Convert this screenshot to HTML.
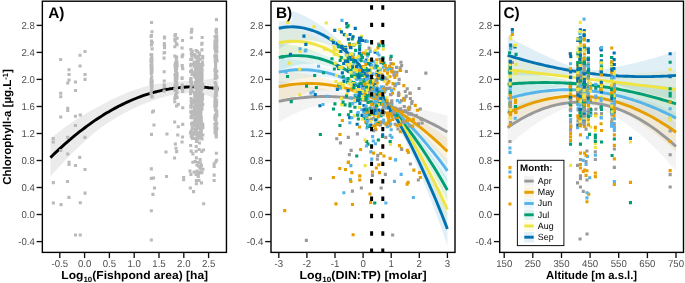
<!DOCTYPE html>
<html><head><meta charset="utf-8"><title>Figure</title>
<style>html,body{margin:0;padding:0;background:#fff}svg{display:block;will-change:transform}text{font-family:"Liberation Sans",sans-serif;text-rendering:geometricPrecision}.tl{font-size:10px;fill:#4d4d4d}.tk{stroke:#111;stroke-width:1.35}.at{font-size:11.5px;font-weight:bold;fill:#000}.sb{font-size:7.6px}.pl{font-size:15.4px;font-weight:bold;fill:#000}.lt{font-size:9.4px;font-weight:bold;fill:#000}.ll{font-size:9.0px;fill:#000}</style></head><body>
<svg width="685" height="283" viewBox="0 0 685 283">
<rect width="685" height="283" fill="#fff"/>
<defs>
<clipPath id="cA"><rect x="42.35" y="1.2" width="184.1" height="251.2"/></clipPath>
<clipPath id="cB"><rect x="271.0" y="1.2" width="184" height="251.2"/></clipPath>
<clipPath id="cC"><rect x="499.7" y="1.2" width="183.8" height="251.2"/></clipPath>
</defs>
<g clip-path="url(#cA)">
<polygon points="50.4,138.7 52.8,136.6 55.2,134.7 57.7,132.8 60.1,130.9 62.6,129 65,127.2 67.4,125.5 69.9,123.8 72.3,122.1 74.7,120.5 77.2,118.9 79.6,117.3 82.1,115.8 84.5,114.4 86.9,112.9 89.4,111.5 91.8,110.2 94.2,108.9 96.7,107.6 99.1,106.4 101.6,105.1 104,103.7 106.4,102.4 108.9,101.1 111.3,99.8 113.7,98.6 116.2,97.4 118.6,96.3 121,95.2 123.5,94.2 125.9,93.2 128.4,92.2 130.8,91.3 133.2,90.4 135.7,89.5 138.1,88.7 140.5,88 143,87.3 145.4,86.6 147.9,85.9 150.3,85.3 152.7,84.8 155.2,84.3 157.6,83.8 160,83.4 162.5,83 164.9,82.7 167.3,82.4 169.8,82.1 172.2,81.9 174.7,81.8 177.1,81.6 179.5,81.5 182,81.3 184.4,81.1 186.8,81 189.3,81 191.7,80.9 194.2,80.9 196.6,80.7 199,80.5 201.5,80.4 203.9,80.1 206.3,79.6 208.8,79.2 211.2,78.8 213.6,78.1 216.1,77.4 218.5,76.8 218.5,101.1 216.1,99.8 213.6,98.4 211.2,97.1 208.8,96.1 206.3,95.2 203.9,94.3 201.5,93.7 199,93.4 196.6,93.1 194.2,92.9 191.7,92.8 189.3,92.9 186.8,93 184.4,93.2 182,93.4 179.5,93.6 177.1,94 174.7,94.5 172.2,95 169.8,95.5 167.3,96.1 164.9,96.8 162.5,97.4 160,98.1 157.6,98.9 155.2,99.7 152.7,100.5 150.3,101.4 147.9,102.3 145.4,103.2 143,104.2 140.5,105.2 138.1,106.3 135.7,107.4 133.2,108.6 130.8,109.7 128.4,111 125.9,112.2 123.5,113.5 121,114.9 118.6,116.3 116.2,117.7 113.7,119.2 111.3,120.7 108.9,122.3 106.4,123.9 104,125.5 101.6,127.2 99.1,129 96.7,131 94.2,133 91.8,135.1 89.4,137.2 86.9,139.3 84.5,141.5 82.1,143.8 79.6,146.1 77.2,148.4 74.7,150.7 72.3,153.1 69.9,155.6 67.4,158.1 65,160.6 62.6,163.2 60.1,165.8 57.7,168.4 55.2,171.1 52.8,173.8 50.4,176.5" fill="#ebebeb"/>
<polyline points="50.4,157.6 52.8,155.2 55.2,152.9 57.7,150.6 60.1,148.3 62.6,146.1 65,143.9 67.4,141.8 69.9,139.7 72.3,137.6 74.7,135.6 77.2,133.6 79.6,131.7 82.1,129.8 84.5,128 86.9,126.1 89.4,124.4 91.8,122.6 94.2,120.9 96.7,119.3 99.1,117.7 101.6,116.1 104,114.6 106.4,113.1 108.9,111.7 111.3,110.3 113.7,108.9 116.2,107.6 118.6,106.3 121,105.1 123.5,103.9 125.9,102.7 128.4,101.6 130.8,100.5 133.2,99.5 135.7,98.5 138.1,97.5 140.5,96.6 143,95.7 145.4,94.9 147.9,94.1 150.3,93.4 152.7,92.7 155.2,92 157.6,91.4 160,90.8 162.5,90.2 164.9,89.7 167.3,89.3 169.8,88.8 172.2,88.5 174.7,88.1 177.1,87.8 179.5,87.6 182,87.3 184.4,87.2 186.8,87 189.3,86.9 191.7,86.9 194.2,86.9 196.6,86.9 199,87 201.5,87.1 203.9,87.2 206.3,87.4 208.8,87.7 211.2,87.9 213.6,88.2 216.1,88.6 218.5,89" fill="none" stroke="#000" stroke-width="2.9" stroke-linejoin="round"/>
<path d="M83.5 49.9h3.1v3.1h-3.1zM78.5 53.7h3.1v3.1h-3.1zM59.1 57.9h3.1v3.1h-3.1zM78.5 64.4h3.1v3.1h-3.1zM67.5 68.2h3.1v3.1h-3.1zM67.5 72.9h3.1v3.1h-3.1zM83.5 72.9h3.1v3.1h-3.1zM83.5 77.8h3.1v3.1h-3.1zM67.5 78.5h3.1v3.1h-3.1zM73.9 80.5h3.1v3.1h-3.1zM66.2 81.4h3.1v3.1h-3.1zM73.9 89h3.1v3.1h-3.1zM59.2 91.7h3.1v3.1h-3.1zM59.2 95.2h3.1v3.1h-3.1zM66.2 106.7h3.1v3.1h-3.1zM66.2 108.8h3.1v3.1h-3.1zM59.2 115.5h3.1v3.1h-3.1zM73.9 114.7h3.1v3.1h-3.1zM78.7 113.4h3.1v3.1h-3.1zM73.9 124h3.1v3.1h-3.1zM51.7 137h3.1v3.1h-3.1zM51.7 140.5h3.1v3.1h-3.1zM66.2 135.8h3.1v3.1h-3.1zM83.4 135.8h3.1v3.1h-3.1zM59.2 149h3.1v3.1h-3.1zM66.2 152.5h3.1v3.1h-3.1zM78.2 155.8h3.1v3.1h-3.1zM67.5 160.8h3.1v3.1h-3.1zM67.5 162.9h3.1v3.1h-3.1zM73.9 164h3.1v3.1h-3.1zM83.4 168h3.1v3.1h-3.1zM51.8 181.1h3.1v3.1h-3.1zM65.9 180h3.1v3.1h-3.1zM83.5 191.6h3.1v3.1h-3.1zM67.4 195.8h3.1v3.1h-3.1zM51.8 201.4h3.1v3.1h-3.1zM59.5 203.1h3.1v3.1h-3.1zM78.7 201.2h3.1v3.1h-3.1zM74 233.4h3.1v3.1h-3.1zM78.7 233.4h3.1v3.1h-3.1zM149.8 167.3h3.1v3.1h-3.1zM149.8 176.8h3.1v3.1h-3.1zM152 176.4h3.1v3.1h-3.1zM152.9 186.4h3.1v3.1h-3.1zM151.4 192.8h3.1v3.1h-3.1zM149.8 209.2h3.1v3.1h-3.1zM149.8 238.4h3.1v3.1h-3.1zM165 174.9h3.1v3.1h-3.1zM182.1 175.9h3.1v3.1h-3.1zM182.1 178.1h3.1v3.1h-3.1zM188.4 169.4h3.1v3.1h-3.1zM189.4 172.8h3.1v3.1h-3.1zM192.6 170.4h3.1v3.1h-3.1zM194.8 179h3.1v3.1h-3.1zM194.8 182.2h3.1v3.1h-3.1zM197.4 179h3.1v3.1h-3.1zM199.9 181.3h3.1v3.1h-3.1zM188.8 186.4h3.1v3.1h-3.1zM192 190.1h3.1v3.1h-3.1zM202.1 202.2h3.1v3.1h-3.1zM212.6 162.2h3.1v3.1h-3.1zM212.6 164.8h3.1v3.1h-3.1zM212.6 173.6h3.1v3.1h-3.1zM212.6 179h3.1v3.1h-3.1zM151 110.5h3.1v3.1h-3.1zM151.9 109.5h3.1v3.1h-3.1zM152.4 123.5h3.1v3.1h-3.1zM149.9 132.8h3.1v3.1h-3.1zM165.4 132.4h3.1v3.1h-3.1zM164.4 150.4h3.1v3.1h-3.1zM149.5 35h3.1v3.1h-3.1zM149.9 33.9h3.1v3.1h-3.1zM150.4 30.2h3.1v3.1h-3.1zM150 20.9h3.1v3.1h-3.1zM149.7 68.9h3.1v3.1h-3.1zM150.3 86.9h3.1v3.1h-3.1zM149.9 43.3h3.1v3.1h-3.1zM149.8 93.1h3.1v3.1h-3.1zM149.6 66.1h3.1v3.1h-3.1zM150.7 40.9h3.1v3.1h-3.1zM150.2 95.5h3.1v3.1h-3.1zM149.7 71.8h3.1v3.1h-3.1zM150.6 47.3h3.1v3.1h-3.1zM150.1 83.7h3.1v3.1h-3.1zM150.3 67h3.1v3.1h-3.1zM149.6 68.4h3.1v3.1h-3.1zM149.9 67.6h3.1v3.1h-3.1zM149.9 88.9h3.1v3.1h-3.1zM150.4 58h3.1v3.1h-3.1zM150.2 55.7h3.1v3.1h-3.1zM150 60.3h3.1v3.1h-3.1zM150.3 61.3h3.1v3.1h-3.1zM150 81.9h3.1v3.1h-3.1zM149.9 92.9h3.1v3.1h-3.1zM149.6 83.2h3.1v3.1h-3.1zM149.9 64.6h3.1v3.1h-3.1zM150.2 70.3h3.1v3.1h-3.1zM149.9 39.5h3.1v3.1h-3.1zM149.5 81.3h3.1v3.1h-3.1zM150.1 80.5h3.1v3.1h-3.1zM150.7 79.7h3.1v3.1h-3.1zM149.4 57.7h3.1v3.1h-3.1zM150.2 53.3h3.1v3.1h-3.1zM150.7 95.2h3.1v3.1h-3.1zM150.5 67.3h3.1v3.1h-3.1zM150.5 47.2h3.1v3.1h-3.1zM149.8 66.8h3.1v3.1h-3.1zM150.4 68.1h3.1v3.1h-3.1zM149.5 59.7h3.1v3.1h-3.1zM149.8 57.2h3.1v3.1h-3.1zM149.6 63.9h3.1v3.1h-3.1zM150 85.2h3.1v3.1h-3.1zM150.5 70.3h3.1v3.1h-3.1zM150 85.4h3.1v3.1h-3.1zM150.6 79.3h3.1v3.1h-3.1zM150.5 94.9h3.1v3.1h-3.1zM149.4 91.1h3.1v3.1h-3.1zM149.7 67.5h3.1v3.1h-3.1zM150.5 81.8h3.1v3.1h-3.1zM149.6 78.3h3.1v3.1h-3.1zM149.4 60.5h3.1v3.1h-3.1zM150.5 64.7h3.1v3.1h-3.1zM150.2 82.4h3.1v3.1h-3.1zM150.5 84.3h3.1v3.1h-3.1zM149.4 64.2h3.1v3.1h-3.1zM150 42.7h3.1v3.1h-3.1zM150.1 75.3h3.1v3.1h-3.1zM150.5 95h3.1v3.1h-3.1zM149.5 53h3.1v3.1h-3.1zM162.8 41.9h3.1v3.1h-3.1zM162.6 70.2h3.1v3.1h-3.1zM162.6 83.5h3.1v3.1h-3.1zM163 35.6h3.1v3.1h-3.1zM162.8 84.5h3.1v3.1h-3.1zM163 51h3.1v3.1h-3.1zM162.6 89.6h3.1v3.1h-3.1zM163 46.1h3.1v3.1h-3.1zM162.7 79.5h3.1v3.1h-3.1zM163 44.2h3.1v3.1h-3.1zM162.8 85.2h3.1v3.1h-3.1zM162.8 44h3.1v3.1h-3.1zM162.5 51.5h3.1v3.1h-3.1zM162.9 36.3h3.1v3.1h-3.1zM162.5 56.6h3.1v3.1h-3.1zM173.4 33.9h3.1v3.1h-3.1zM173.3 45.2h3.1v3.1h-3.1zM174.9 42.3h3.1v3.1h-3.1zM173.6 39.4h3.1v3.1h-3.1zM174.7 57.7h3.1v3.1h-3.1zM175.6 36.7h3.1v3.1h-3.1zM173.3 54.4h3.1v3.1h-3.1zM175.5 43.2h3.1v3.1h-3.1zM175.1 55.4h3.1v3.1h-3.1zM174.7 55.6h3.1v3.1h-3.1zM173.3 37.6h3.1v3.1h-3.1zM173.9 33.1h3.1v3.1h-3.1zM175.4 60.6h3.1v3.1h-3.1zM174.9 62.2h3.1v3.1h-3.1zM174.1 75.3h3.1v3.1h-3.1zM173.7 79.2h3.1v3.1h-3.1zM174.5 71.5h3.1v3.1h-3.1zM175 65.5h3.1v3.1h-3.1zM173.7 72.9h3.1v3.1h-3.1zM174.2 67.3h3.1v3.1h-3.1zM175.5 90.9h3.1v3.1h-3.1zM173.5 73.5h3.1v3.1h-3.1zM173.8 76.6h3.1v3.1h-3.1zM173.9 78.5h3.1v3.1h-3.1zM175.5 74h3.1v3.1h-3.1zM174.8 82.1h3.1v3.1h-3.1zM175.1 61.8h3.1v3.1h-3.1zM175 95.4h3.1v3.1h-3.1zM174.7 70.4h3.1v3.1h-3.1zM174.9 86.5h3.1v3.1h-3.1zM174.8 65h3.1v3.1h-3.1zM175.6 95.8h3.1v3.1h-3.1zM174.3 82h3.1v3.1h-3.1zM173.3 97h3.1v3.1h-3.1zM175.2 83.6h3.1v3.1h-3.1zM175.1 66.6h3.1v3.1h-3.1zM174 68.8h3.1v3.1h-3.1zM174.7 62.9h3.1v3.1h-3.1zM175.4 77h3.1v3.1h-3.1zM174.3 63.4h3.1v3.1h-3.1zM174.9 90.5h3.1v3.1h-3.1zM174.8 68.6h3.1v3.1h-3.1zM175.1 65h3.1v3.1h-3.1zM175.2 81.5h3.1v3.1h-3.1zM173.9 79h3.1v3.1h-3.1zM174.8 69.3h3.1v3.1h-3.1zM175.3 75.5h3.1v3.1h-3.1zM175.4 91.2h3.1v3.1h-3.1zM173.5 84h3.1v3.1h-3.1zM174 88.1h3.1v3.1h-3.1zM174.6 76.8h3.1v3.1h-3.1zM175.4 61.6h3.1v3.1h-3.1zM174.6 71.9h3.1v3.1h-3.1zM173.3 88.1h3.1v3.1h-3.1zM174.6 93.4h3.1v3.1h-3.1zM174.7 72.3h3.1v3.1h-3.1zM175.6 63.8h3.1v3.1h-3.1zM173.4 87.3h3.1v3.1h-3.1zM174.1 73.2h3.1v3.1h-3.1zM175.4 71.9h3.1v3.1h-3.1zM175.4 83.9h3.1v3.1h-3.1zM174 61.7h3.1v3.1h-3.1zM173.8 96.2h3.1v3.1h-3.1zM174.2 65.5h3.1v3.1h-3.1zM174 93.6h3.1v3.1h-3.1zM173.6 89h3.1v3.1h-3.1zM173.6 96h3.1v3.1h-3.1zM174.5 61.1h3.1v3.1h-3.1zM175.5 73.1h3.1v3.1h-3.1zM175 79.4h3.1v3.1h-3.1zM173.5 63.5h3.1v3.1h-3.1zM173.6 65.6h3.1v3.1h-3.1zM173.2 100.2h3.1v3.1h-3.1zM176.7 102.8h3.1v3.1h-3.1zM175 104.4h3.1v3.1h-3.1zM173.8 142.5h3.1v3.1h-3.1zM176.7 125.2h3.1v3.1h-3.1zM173 156.4h3.1v3.1h-3.1zM173.1 120.4h3.1v3.1h-3.1zM175.1 150.1h3.1v3.1h-3.1zM176.2 133.4h3.1v3.1h-3.1zM174.5 146.7h3.1v3.1h-3.1zM181.1 90h3.1v3.1h-3.1zM181 38.9h3.1v3.1h-3.1zM180.7 64.5h3.1v3.1h-3.1zM180.9 87.4h3.1v3.1h-3.1zM180.6 76.3h3.1v3.1h-3.1zM180.7 83.6h3.1v3.1h-3.1zM180.6 63.9h3.1v3.1h-3.1zM180.5 46.4h3.1v3.1h-3.1zM181.2 53.3h3.1v3.1h-3.1zM181.2 67.1h3.1v3.1h-3.1zM180.5 84.8h3.1v3.1h-3.1zM180.5 87h3.1v3.1h-3.1zM180.5 76.9h3.1v3.1h-3.1zM180.6 55.1h3.1v3.1h-3.1zM181.2 122.8h3.1v3.1h-3.1zM181 135.5h3.1v3.1h-3.1zM180.5 140.4h3.1v3.1h-3.1zM181.2 106.2h3.1v3.1h-3.1zM189.8 30.6h3.1v3.1h-3.1zM190.2 27.8h3.1v3.1h-3.1zM189.8 36.2h3.1v3.1h-3.1zM190.2 28.6h3.1v3.1h-3.1zM190.3 49.5h3.1v3.1h-3.1zM190.3 53.9h3.1v3.1h-3.1zM189.1 57.9h3.1v3.1h-3.1zM190.3 57.3h3.1v3.1h-3.1zM190.6 49.8h3.1v3.1h-3.1zM189.3 48h3.1v3.1h-3.1zM189.8 52.2h3.1v3.1h-3.1zM189.6 97h3.1v3.1h-3.1zM189.4 62.8h3.1v3.1h-3.1zM189.8 83.1h3.1v3.1h-3.1zM189.7 132.1h3.1v3.1h-3.1zM189.2 110.3h3.1v3.1h-3.1zM190.1 83.5h3.1v3.1h-3.1zM189.8 135.2h3.1v3.1h-3.1zM189.5 115.9h3.1v3.1h-3.1zM190.5 89.5h3.1v3.1h-3.1zM190.8 109.4h3.1v3.1h-3.1zM189.9 116.1h3.1v3.1h-3.1zM189.7 115.9h3.1v3.1h-3.1zM189.4 132h3.1v3.1h-3.1zM189.9 80.6h3.1v3.1h-3.1zM189.7 129.6h3.1v3.1h-3.1zM190.5 98.8h3.1v3.1h-3.1zM189.6 90.7h3.1v3.1h-3.1zM190.8 70.9h3.1v3.1h-3.1zM190.6 126.8h3.1v3.1h-3.1zM189.3 88.7h3.1v3.1h-3.1zM190 122.6h3.1v3.1h-3.1zM190.8 136.8h3.1v3.1h-3.1zM189.4 76.9h3.1v3.1h-3.1zM189.8 104.3h3.1v3.1h-3.1zM190.2 70.5h3.1v3.1h-3.1zM190.1 131.6h3.1v3.1h-3.1zM190.7 133.2h3.1v3.1h-3.1zM190.7 134.5h3.1v3.1h-3.1zM188.9 131.2h3.1v3.1h-3.1zM189.4 86.5h3.1v3.1h-3.1zM189.8 134.1h3.1v3.1h-3.1zM190.1 88.9h3.1v3.1h-3.1zM189.6 130.3h3.1v3.1h-3.1zM190.5 72.8h3.1v3.1h-3.1zM189.3 90.3h3.1v3.1h-3.1zM189.3 104.7h3.1v3.1h-3.1zM189.3 105.6h3.1v3.1h-3.1zM190.7 126.1h3.1v3.1h-3.1zM189 78h3.1v3.1h-3.1zM189.7 110.9h3.1v3.1h-3.1zM189.6 81.3h3.1v3.1h-3.1zM189.5 77.8h3.1v3.1h-3.1zM190.6 114.7h3.1v3.1h-3.1zM189.7 115h3.1v3.1h-3.1zM189.9 101.9h3.1v3.1h-3.1zM189.6 99.1h3.1v3.1h-3.1zM190.8 121.3h3.1v3.1h-3.1zM190.5 71.8h3.1v3.1h-3.1zM189.9 90h3.1v3.1h-3.1zM189 92.1h3.1v3.1h-3.1zM189 80h3.1v3.1h-3.1zM190.4 113.9h3.1v3.1h-3.1zM190.2 68.4h3.1v3.1h-3.1zM189.2 64.1h3.1v3.1h-3.1zM189 70h3.1v3.1h-3.1zM191.3 160.7h3.1v3.1h-3.1zM189.1 144h3.1v3.1h-3.1zM191.3 152.3h3.1v3.1h-3.1zM189.6 149.6h3.1v3.1h-3.1zM200.2 42.6h3.1v3.1h-3.1zM200.5 41.7h3.1v3.1h-3.1zM200.6 36h3.1v3.1h-3.1zM200.4 48.3h3.1v3.1h-3.1zM193.8 55.4h3.1v3.1h-3.1zM198.1 53.2h3.1v3.1h-3.1zM201.1 55.2h3.1v3.1h-3.1zM196.8 61.1h3.1v3.1h-3.1zM192.6 60.6h3.1v3.1h-3.1zM193.6 53.8h3.1v3.1h-3.1zM196.8 55.1h3.1v3.1h-3.1zM192.8 52.9h3.1v3.1h-3.1zM195.7 61.8h3.1v3.1h-3.1zM200.7 56.6h3.1v3.1h-3.1zM200.9 60.5h3.1v3.1h-3.1zM195.8 50.1h3.1v3.1h-3.1zM197.9 53h3.1v3.1h-3.1zM192.5 62.2h3.1v3.1h-3.1zM201.2 56h3.1v3.1h-3.1zM198 57.8h3.1v3.1h-3.1zM200.8 55h3.1v3.1h-3.1zM197.7 51.6h3.1v3.1h-3.1zM194.6 55.8h3.1v3.1h-3.1zM194.5 48.9h3.1v3.1h-3.1zM195.8 58.9h3.1v3.1h-3.1zM194.9 60.5h3.1v3.1h-3.1zM198.8 111.4h3.1v3.1h-3.1zM200.5 68h3.1v3.1h-3.1zM194.2 130.6h3.1v3.1h-3.1zM200.6 68.3h3.1v3.1h-3.1zM199.5 63.6h3.1v3.1h-3.1zM193.8 70.7h3.1v3.1h-3.1zM195.2 91.6h3.1v3.1h-3.1zM200.7 95.2h3.1v3.1h-3.1zM193.7 82.9h3.1v3.1h-3.1zM192.7 64.6h3.1v3.1h-3.1zM196.4 100.9h3.1v3.1h-3.1zM194.8 90.9h3.1v3.1h-3.1zM193.6 111.9h3.1v3.1h-3.1zM196.1 74.6h3.1v3.1h-3.1zM197 78.1h3.1v3.1h-3.1zM195.2 71.8h3.1v3.1h-3.1zM199.5 83.4h3.1v3.1h-3.1zM201.1 92.9h3.1v3.1h-3.1zM194 115.3h3.1v3.1h-3.1zM199.1 128.5h3.1v3.1h-3.1zM193.8 121.7h3.1v3.1h-3.1zM200.2 85.3h3.1v3.1h-3.1zM196.6 108.9h3.1v3.1h-3.1zM194.8 127.8h3.1v3.1h-3.1zM198.8 126.7h3.1v3.1h-3.1zM196.6 101.4h3.1v3.1h-3.1zM194.4 86h3.1v3.1h-3.1zM199.1 134.4h3.1v3.1h-3.1zM194 66.2h3.1v3.1h-3.1zM193.2 95.1h3.1v3.1h-3.1zM199.6 79.3h3.1v3.1h-3.1zM196.8 101.1h3.1v3.1h-3.1zM200 74.8h3.1v3.1h-3.1zM192.8 100.4h3.1v3.1h-3.1zM195.8 84.4h3.1v3.1h-3.1zM199.4 113.7h3.1v3.1h-3.1zM193.4 103.6h3.1v3.1h-3.1zM199.7 130.7h3.1v3.1h-3.1zM192.7 123h3.1v3.1h-3.1zM193 113.6h3.1v3.1h-3.1zM197.9 133.9h3.1v3.1h-3.1zM198.2 67.7h3.1v3.1h-3.1zM198.5 81.6h3.1v3.1h-3.1zM200 64.8h3.1v3.1h-3.1zM195.5 113.2h3.1v3.1h-3.1zM194 110.9h3.1v3.1h-3.1zM198.8 117.5h3.1v3.1h-3.1zM200.4 93.4h3.1v3.1h-3.1zM193.9 82h3.1v3.1h-3.1zM196.1 66.5h3.1v3.1h-3.1zM198.9 67.2h3.1v3.1h-3.1zM193.2 132.4h3.1v3.1h-3.1zM199.7 81.5h3.1v3.1h-3.1zM195.7 124.4h3.1v3.1h-3.1zM198.1 82.3h3.1v3.1h-3.1zM196.6 126.6h3.1v3.1h-3.1zM192.7 136.9h3.1v3.1h-3.1zM197.6 76.1h3.1v3.1h-3.1zM199.7 68.2h3.1v3.1h-3.1zM196.3 105.4h3.1v3.1h-3.1zM194.8 128.8h3.1v3.1h-3.1zM198.8 74.6h3.1v3.1h-3.1zM194 67.1h3.1v3.1h-3.1zM197.7 76.5h3.1v3.1h-3.1zM197.4 123.9h3.1v3.1h-3.1zM200.4 71.2h3.1v3.1h-3.1zM195.6 93.8h3.1v3.1h-3.1zM196 93.9h3.1v3.1h-3.1zM196.7 119.2h3.1v3.1h-3.1zM195.3 88.2h3.1v3.1h-3.1zM196.1 73.8h3.1v3.1h-3.1zM198.2 92.5h3.1v3.1h-3.1zM200.7 124.1h3.1v3.1h-3.1zM194.7 80.6h3.1v3.1h-3.1zM199.5 104.4h3.1v3.1h-3.1zM192.7 109.7h3.1v3.1h-3.1zM196.1 121.3h3.1v3.1h-3.1zM199.2 131.6h3.1v3.1h-3.1zM198.8 130.9h3.1v3.1h-3.1zM195.2 87.9h3.1v3.1h-3.1zM193.2 127.5h3.1v3.1h-3.1zM194 103.8h3.1v3.1h-3.1zM197.1 123.5h3.1v3.1h-3.1zM196.1 73.1h3.1v3.1h-3.1zM196 66.1h3.1v3.1h-3.1zM195.3 109.7h3.1v3.1h-3.1zM193.2 136.7h3.1v3.1h-3.1zM197.4 85h3.1v3.1h-3.1zM200 72.8h3.1v3.1h-3.1zM195.5 132.7h3.1v3.1h-3.1zM194.8 117.4h3.1v3.1h-3.1zM193.4 102.4h3.1v3.1h-3.1zM198.4 78.2h3.1v3.1h-3.1zM195.5 103.7h3.1v3.1h-3.1zM197.8 74h3.1v3.1h-3.1zM196.3 137.4h3.1v3.1h-3.1zM195.5 121.4h3.1v3.1h-3.1zM194.4 97h3.1v3.1h-3.1zM197.2 107.2h3.1v3.1h-3.1zM199 122.1h3.1v3.1h-3.1zM198.8 123h3.1v3.1h-3.1zM200.4 86.9h3.1v3.1h-3.1zM199.9 101.4h3.1v3.1h-3.1zM194.9 75.4h3.1v3.1h-3.1zM199.4 110.2h3.1v3.1h-3.1zM193.3 106.5h3.1v3.1h-3.1zM193 91.8h3.1v3.1h-3.1zM197.7 111.2h3.1v3.1h-3.1zM194 65.8h3.1v3.1h-3.1zM197.7 123.9h3.1v3.1h-3.1zM199.7 89.4h3.1v3.1h-3.1zM197.7 116.4h3.1v3.1h-3.1zM200.3 99.3h3.1v3.1h-3.1zM200.4 86.3h3.1v3.1h-3.1zM194.6 84.5h3.1v3.1h-3.1zM199.1 128.8h3.1v3.1h-3.1zM196.8 114.6h3.1v3.1h-3.1zM193.9 100.5h3.1v3.1h-3.1zM196.5 94.8h3.1v3.1h-3.1zM194.3 109.2h3.1v3.1h-3.1zM198.6 110.2h3.1v3.1h-3.1zM199.2 96.8h3.1v3.1h-3.1zM200.2 105.3h3.1v3.1h-3.1zM200.4 93.2h3.1v3.1h-3.1zM198.8 77.2h3.1v3.1h-3.1zM193.4 132.3h3.1v3.1h-3.1zM195.9 65.9h3.1v3.1h-3.1zM198.1 132.4h3.1v3.1h-3.1zM199.4 136.5h3.1v3.1h-3.1zM200.9 96.6h3.1v3.1h-3.1zM194.7 67.3h3.1v3.1h-3.1zM195 109.9h3.1v3.1h-3.1zM200.7 62.6h3.1v3.1h-3.1zM199.8 119.8h3.1v3.1h-3.1zM198.7 72h3.1v3.1h-3.1zM193.1 117.7h3.1v3.1h-3.1zM198.3 90.2h3.1v3.1h-3.1zM195.7 64.9h3.1v3.1h-3.1zM201.4 125.2h3.1v3.1h-3.1zM201.2 123.8h3.1v3.1h-3.1zM196.7 125.8h3.1v3.1h-3.1zM194.4 112.9h3.1v3.1h-3.1zM194.7 91.9h3.1v3.1h-3.1zM200.3 94.3h3.1v3.1h-3.1zM200.5 107.4h3.1v3.1h-3.1zM195.2 82h3.1v3.1h-3.1zM192.7 105.4h3.1v3.1h-3.1zM200 79.3h3.1v3.1h-3.1zM196.9 136.2h3.1v3.1h-3.1zM196.1 132.8h3.1v3.1h-3.1zM199.9 99.5h3.1v3.1h-3.1zM198.2 67.4h3.1v3.1h-3.1zM197.2 119.4h3.1v3.1h-3.1zM194.7 66.3h3.1v3.1h-3.1zM192.9 74.5h3.1v3.1h-3.1zM194.7 122.9h3.1v3.1h-3.1zM196.7 102.6h3.1v3.1h-3.1zM195.4 84.9h3.1v3.1h-3.1zM197.5 118.4h3.1v3.1h-3.1zM194.2 95h3.1v3.1h-3.1zM198.3 134.5h3.1v3.1h-3.1zM195 91.9h3.1v3.1h-3.1zM197.7 73.1h3.1v3.1h-3.1zM198 135.5h3.1v3.1h-3.1zM195.1 98.5h3.1v3.1h-3.1zM193.7 101.3h3.1v3.1h-3.1zM201.2 103.1h3.1v3.1h-3.1zM194.5 85.8h3.1v3.1h-3.1zM198.2 126.7h3.1v3.1h-3.1zM196.6 99.2h3.1v3.1h-3.1zM199.8 70.3h3.1v3.1h-3.1zM201 97.3h3.1v3.1h-3.1zM195.6 120.8h3.1v3.1h-3.1zM194.9 73.4h3.1v3.1h-3.1zM194.9 112.9h3.1v3.1h-3.1zM193.5 96.3h3.1v3.1h-3.1zM194.7 103.4h3.1v3.1h-3.1zM193.9 120.5h3.1v3.1h-3.1zM200.8 86.4h3.1v3.1h-3.1zM195.8 107.3h3.1v3.1h-3.1zM199.2 66.8h3.1v3.1h-3.1zM198.6 123.5h3.1v3.1h-3.1zM199.6 95.3h3.1v3.1h-3.1zM199.9 103.5h3.1v3.1h-3.1zM194.3 83.9h3.1v3.1h-3.1zM197.9 103.9h3.1v3.1h-3.1zM199.7 116.1h3.1v3.1h-3.1zM194.5 92.3h3.1v3.1h-3.1zM199.5 96.8h3.1v3.1h-3.1zM194.6 132.7h3.1v3.1h-3.1zM196.6 85.6h3.1v3.1h-3.1zM197.1 85h3.1v3.1h-3.1zM195 112.1h3.1v3.1h-3.1zM199.6 93.1h3.1v3.1h-3.1zM194.1 98.1h3.1v3.1h-3.1zM196.2 95.1h3.1v3.1h-3.1zM194.8 120.2h3.1v3.1h-3.1zM194.4 65.3h3.1v3.1h-3.1zM198.8 118.1h3.1v3.1h-3.1zM194.8 75.5h3.1v3.1h-3.1zM197.8 131.4h3.1v3.1h-3.1zM194.9 103h3.1v3.1h-3.1zM195 118.1h3.1v3.1h-3.1zM196.8 90.9h3.1v3.1h-3.1zM198.4 102.3h3.1v3.1h-3.1zM194.4 93.7h3.1v3.1h-3.1zM201.1 122.5h3.1v3.1h-3.1zM197.2 112h3.1v3.1h-3.1zM193.9 93.4h3.1v3.1h-3.1zM200.5 76.6h3.1v3.1h-3.1zM201.3 126.1h3.1v3.1h-3.1zM198.7 90.5h3.1v3.1h-3.1zM193.5 84.6h3.1v3.1h-3.1zM199.2 94.1h3.1v3.1h-3.1zM199.7 78.6h3.1v3.1h-3.1zM199.9 127h3.1v3.1h-3.1zM199 77.8h3.1v3.1h-3.1zM194.6 67.3h3.1v3.1h-3.1zM193.1 117.9h3.1v3.1h-3.1zM197 119.6h3.1v3.1h-3.1zM195.1 88.3h3.1v3.1h-3.1zM200.5 137.3h3.1v3.1h-3.1zM193.5 120.9h3.1v3.1h-3.1zM197.5 62.8h3.1v3.1h-3.1zM198.1 83.4h3.1v3.1h-3.1zM195.7 135.1h3.1v3.1h-3.1zM199.2 66.5h3.1v3.1h-3.1zM198.6 63.4h3.1v3.1h-3.1zM200.4 107.2h3.1v3.1h-3.1zM198.2 63.7h3.1v3.1h-3.1zM193.4 101.9h3.1v3.1h-3.1zM196 123.8h3.1v3.1h-3.1zM195.1 92.4h3.1v3.1h-3.1zM193.7 100.2h3.1v3.1h-3.1zM201.1 82.4h3.1v3.1h-3.1zM199.6 74.7h3.1v3.1h-3.1zM200.4 100.9h3.1v3.1h-3.1zM193.8 121.2h3.1v3.1h-3.1zM200.5 73.3h3.1v3.1h-3.1zM193.7 81.3h3.1v3.1h-3.1zM197.2 133.7h3.1v3.1h-3.1zM200.2 86.8h3.1v3.1h-3.1zM193 107.1h3.1v3.1h-3.1zM197.7 80.6h3.1v3.1h-3.1zM198 136.1h3.1v3.1h-3.1zM193.9 86.1h3.1v3.1h-3.1zM200.1 74.4h3.1v3.1h-3.1zM193.8 75.4h3.1v3.1h-3.1zM199.4 72h3.1v3.1h-3.1zM193.5 109.5h3.1v3.1h-3.1zM199.4 119.2h3.1v3.1h-3.1zM196.5 131.2h3.1v3.1h-3.1zM194 95.6h3.1v3.1h-3.1zM195.9 103.4h3.1v3.1h-3.1zM194.4 73.5h3.1v3.1h-3.1zM201.3 85.1h3.1v3.1h-3.1zM197 131.2h3.1v3.1h-3.1zM195.3 89.9h3.1v3.1h-3.1zM197.6 67.6h3.1v3.1h-3.1zM192.9 109.9h3.1v3.1h-3.1zM195.9 68.4h3.1v3.1h-3.1zM195.2 114.5h3.1v3.1h-3.1zM199.3 100.4h3.1v3.1h-3.1zM194.6 125.4h3.1v3.1h-3.1zM194.5 119.2h3.1v3.1h-3.1zM194 132.6h3.1v3.1h-3.1zM199.5 100h3.1v3.1h-3.1zM196.5 105.4h3.1v3.1h-3.1zM198.5 104.3h3.1v3.1h-3.1zM198.8 69h3.1v3.1h-3.1zM196.3 119h3.1v3.1h-3.1zM196.5 135.2h3.1v3.1h-3.1zM197.3 85.8h3.1v3.1h-3.1zM200.5 94.1h3.1v3.1h-3.1zM197.5 110.6h3.1v3.1h-3.1zM200.2 78.2h3.1v3.1h-3.1zM200.3 105.5h3.1v3.1h-3.1zM195.9 87.6h3.1v3.1h-3.1zM201.3 133.5h3.1v3.1h-3.1zM197.5 88.4h3.1v3.1h-3.1zM201.2 63.7h3.1v3.1h-3.1zM193.1 98.9h3.1v3.1h-3.1zM197.8 62.9h3.1v3.1h-3.1zM194.3 68.9h3.1v3.1h-3.1zM194.8 76.2h3.1v3.1h-3.1zM193.7 72.2h3.1v3.1h-3.1zM195.9 72.1h3.1v3.1h-3.1zM199.5 92.7h3.1v3.1h-3.1zM193.7 111.3h3.1v3.1h-3.1zM199.6 89.4h3.1v3.1h-3.1zM192.7 111.2h3.1v3.1h-3.1zM199.3 129.1h3.1v3.1h-3.1zM198.9 107.2h3.1v3.1h-3.1zM195.7 80.7h3.1v3.1h-3.1zM193.2 123.9h3.1v3.1h-3.1zM197.6 84h3.1v3.1h-3.1zM193.7 84.1h3.1v3.1h-3.1zM199.3 78.6h3.1v3.1h-3.1zM193.1 91h3.1v3.1h-3.1zM195.6 114.7h3.1v3.1h-3.1zM197.5 97.9h3.1v3.1h-3.1zM201.2 125.8h3.1v3.1h-3.1zM193.8 81.1h3.1v3.1h-3.1zM196.3 67.8h3.1v3.1h-3.1zM199.3 120.1h3.1v3.1h-3.1zM195.2 130.4h3.1v3.1h-3.1zM197.5 79.2h3.1v3.1h-3.1zM198.1 112.9h3.1v3.1h-3.1zM199 135.3h3.1v3.1h-3.1zM200.7 93.4h3.1v3.1h-3.1zM196.5 64.2h3.1v3.1h-3.1zM196.3 75.7h3.1v3.1h-3.1zM193.7 123.6h3.1v3.1h-3.1zM192.8 72.1h3.1v3.1h-3.1zM198.5 105h3.1v3.1h-3.1zM196.4 123h3.1v3.1h-3.1zM194.7 77.9h3.1v3.1h-3.1zM197.2 70.4h3.1v3.1h-3.1zM198.7 132.6h3.1v3.1h-3.1zM199.8 128.5h3.1v3.1h-3.1zM193.3 94.3h3.1v3.1h-3.1zM200.6 125.6h3.1v3.1h-3.1zM197.9 111.5h3.1v3.1h-3.1zM195 82.3h3.1v3.1h-3.1zM193.2 130.1h3.1v3.1h-3.1zM195.2 136.9h3.1v3.1h-3.1zM192.7 122.4h3.1v3.1h-3.1zM197.3 65.6h3.1v3.1h-3.1zM198.5 115.1h3.1v3.1h-3.1zM198.8 114.6h3.1v3.1h-3.1zM199.2 167.4h3.1v3.1h-3.1zM196.7 174.8h3.1v3.1h-3.1zM197.6 147.9h3.1v3.1h-3.1zM201.9 148.4h3.1v3.1h-3.1zM197.2 164.7h3.1v3.1h-3.1zM200.2 149.8h3.1v3.1h-3.1zM193.7 160h3.1v3.1h-3.1zM198.5 165.9h3.1v3.1h-3.1zM195.7 169.5h3.1v3.1h-3.1zM200 171.1h3.1v3.1h-3.1zM199.9 163.7h3.1v3.1h-3.1zM198.2 170.9h3.1v3.1h-3.1zM195.4 163.4h3.1v3.1h-3.1zM200.2 167.7h3.1v3.1h-3.1zM194.6 149.7h3.1v3.1h-3.1zM201.4 167.7h3.1v3.1h-3.1zM194.8 156.3h3.1v3.1h-3.1zM200.3 171h3.1v3.1h-3.1zM197.9 141.4h3.1v3.1h-3.1zM195.3 138.4h3.1v3.1h-3.1zM194.9 139.8h3.1v3.1h-3.1zM199.4 164.8h3.1v3.1h-3.1zM197.2 171.8h3.1v3.1h-3.1zM194.7 145h3.1v3.1h-3.1zM198.6 158h3.1v3.1h-3.1zM194.5 172.8h3.1v3.1h-3.1zM198.7 161.2h3.1v3.1h-3.1zM196.6 161.1h3.1v3.1h-3.1zM214.9 18.1h3.1v3.1h-3.1zM214.4 29.6h3.1v3.1h-3.1zM215 31.6h3.1v3.1h-3.1zM214.9 27.8h3.1v3.1h-3.1zM214 129.9h3.1v3.1h-3.1zM215.3 114h3.1v3.1h-3.1zM213.4 41.6h3.1v3.1h-3.1zM213.7 114.7h3.1v3.1h-3.1zM213.7 56.3h3.1v3.1h-3.1zM213.8 105.6h3.1v3.1h-3.1zM214.4 117.9h3.1v3.1h-3.1zM213.4 39.5h3.1v3.1h-3.1zM215.1 45h3.1v3.1h-3.1zM214.8 93.1h3.1v3.1h-3.1zM213.7 59.7h3.1v3.1h-3.1zM214.9 36.6h3.1v3.1h-3.1zM215.4 38.8h3.1v3.1h-3.1zM213.6 96.5h3.1v3.1h-3.1zM213.5 131.2h3.1v3.1h-3.1zM214.2 41.1h3.1v3.1h-3.1zM213.6 87h3.1v3.1h-3.1zM215.2 59.4h3.1v3.1h-3.1zM214.1 89.6h3.1v3.1h-3.1zM214.7 104.6h3.1v3.1h-3.1zM214 70.4h3.1v3.1h-3.1zM215.2 122.3h3.1v3.1h-3.1zM214.2 131.1h3.1v3.1h-3.1zM213.6 114.3h3.1v3.1h-3.1zM215.2 89.2h3.1v3.1h-3.1zM214.8 40.3h3.1v3.1h-3.1zM215.1 100.7h3.1v3.1h-3.1zM214.5 90.8h3.1v3.1h-3.1zM213.6 116.6h3.1v3.1h-3.1zM214.4 93.4h3.1v3.1h-3.1zM213.6 95.4h3.1v3.1h-3.1zM213.8 108.4h3.1v3.1h-3.1zM213.3 46.5h3.1v3.1h-3.1zM213.7 73.3h3.1v3.1h-3.1zM215.2 35.1h3.1v3.1h-3.1zM214.5 37.9h3.1v3.1h-3.1zM214.1 63.4h3.1v3.1h-3.1zM213.6 80.9h3.1v3.1h-3.1zM214 59.9h3.1v3.1h-3.1zM214.6 58.2h3.1v3.1h-3.1zM215.4 58.7h3.1v3.1h-3.1zM215.4 50.1h3.1v3.1h-3.1zM215.3 40.5h3.1v3.1h-3.1zM213.3 43.9h3.1v3.1h-3.1zM214.8 57h3.1v3.1h-3.1zM213.9 99.8h3.1v3.1h-3.1zM213.3 86.9h3.1v3.1h-3.1zM214.1 50.1h3.1v3.1h-3.1zM215.3 69.4h3.1v3.1h-3.1zM213.9 101.8h3.1v3.1h-3.1zM215.1 56.6h3.1v3.1h-3.1zM213.5 127.6h3.1v3.1h-3.1zM214.2 86.3h3.1v3.1h-3.1zM214.3 114.8h3.1v3.1h-3.1zM214.2 107.9h3.1v3.1h-3.1zM214.4 42.2h3.1v3.1h-3.1zM214.4 117.4h3.1v3.1h-3.1zM214.4 72.6h3.1v3.1h-3.1zM213.3 102.5h3.1v3.1h-3.1zM214.1 65.8h3.1v3.1h-3.1zM214.1 75h3.1v3.1h-3.1zM214 62.7h3.1v3.1h-3.1zM214.3 39h3.1v3.1h-3.1zM213.7 76.9h3.1v3.1h-3.1zM215.2 76h3.1v3.1h-3.1zM214.5 121.1h3.1v3.1h-3.1zM215 103.5h3.1v3.1h-3.1zM214.6 92.3h3.1v3.1h-3.1zM213.7 47.6h3.1v3.1h-3.1zM213.4 43.6h3.1v3.1h-3.1zM214.6 93.5h3.1v3.1h-3.1zM213.3 115.8h3.1v3.1h-3.1zM214.2 86.7h3.1v3.1h-3.1zM213.4 117.7h3.1v3.1h-3.1zM213.4 54.9h3.1v3.1h-3.1zM214.3 82.7h3.1v3.1h-3.1zM214.4 125.2h3.1v3.1h-3.1zM213.3 100h3.1v3.1h-3.1zM214.2 113.2h3.1v3.1h-3.1zM214.7 113.3h3.1v3.1h-3.1zM215.1 110.1h3.1v3.1h-3.1zM213.5 86.6h3.1v3.1h-3.1zM215 109.6h3.1v3.1h-3.1zM215.3 74.8h3.1v3.1h-3.1zM213.3 105h3.1v3.1h-3.1zM213.9 98h3.1v3.1h-3.1zM213.4 68.9h3.1v3.1h-3.1zM214.6 46.7h3.1v3.1h-3.1zM213.9 48.5h3.1v3.1h-3.1zM215.2 109.6h3.1v3.1h-3.1zM214.7 84.9h3.1v3.1h-3.1zM215.4 59.5h3.1v3.1h-3.1zM214.8 42.8h3.1v3.1h-3.1zM214.6 53.4h3.1v3.1h-3.1zM213.3 122.6h3.1v3.1h-3.1zM213.9 130.5h3.1v3.1h-3.1zM214.7 99.5h3.1v3.1h-3.1zM214.7 130.7h3.1v3.1h-3.1zM213.7 130.3h3.1v3.1h-3.1zM214 43.6h3.1v3.1h-3.1zM215.3 43.9h3.1v3.1h-3.1zM214.3 115.4h3.1v3.1h-3.1zM213.9 104.3h3.1v3.1h-3.1zM214.7 101.5h3.1v3.1h-3.1zM213.6 102.6h3.1v3.1h-3.1zM215.1 48.2h3.1v3.1h-3.1zM215.4 126.8h3.1v3.1h-3.1zM214 127.1h3.1v3.1h-3.1zM215.3 45.8h3.1v3.1h-3.1zM214.9 127.8h3.1v3.1h-3.1zM215.1 47.3h3.1v3.1h-3.1zM214.1 89.2h3.1v3.1h-3.1zM214.1 71.9h3.1v3.1h-3.1zM213.5 35.1h3.1v3.1h-3.1zM213.9 75.5h3.1v3.1h-3.1zM214.5 127.1h3.1v3.1h-3.1zM213.4 68.1h3.1v3.1h-3.1zM215.2 114.5h3.1v3.1h-3.1zM213.5 100h3.1v3.1h-3.1zM213.4 126.2h3.1v3.1h-3.1zM213.8 93.2h3.1v3.1h-3.1zM214.3 84.1h3.1v3.1h-3.1zM213.7 69.3h3.1v3.1h-3.1zM213.9 94.2h3.1v3.1h-3.1zM214.2 91.8h3.1v3.1h-3.1zM214.4 99.1h3.1v3.1h-3.1zM215.4 86.2h3.1v3.1h-3.1zM214.5 94h3.1v3.1h-3.1zM214.5 74.3h3.1v3.1h-3.1zM213.8 86.5h3.1v3.1h-3.1zM213.8 98.4h3.1v3.1h-3.1zM215.2 112.1h3.1v3.1h-3.1zM215 55.1h3.1v3.1h-3.1zM213.3 54.2h3.1v3.1h-3.1zM214.5 46.6h3.1v3.1h-3.1zM214.2 160.4h3.1v3.1h-3.1zM214.5 133.3h3.1v3.1h-3.1zM214.8 151.7h3.1v3.1h-3.1zM214.7 135.3h3.1v3.1h-3.1zM214.8 133.5h3.1v3.1h-3.1zM215.1 158.7h3.1v3.1h-3.1z" fill="#bababa"/>
</g>
<g clip-path="url(#cB)">
<polygon points="278.8,80.7 281.6,81.2 284.4,81.7 287.2,82.2 290,82.7 292.9,83.1 295.7,83.6 298.5,84.1 301.3,84.6 304.1,85.1 306.9,85.7 309.7,86.2 312.5,86.7 315.3,87.2 318.1,87.7 321,88.3 323.8,88.8 326.6,89.3 329.4,89.9 332.2,90.4 335,90.9 337.8,91.5 340.6,92 343.4,92.6 346.2,93.1 349.1,93.7 351.9,94.3 354.7,94.8 357.5,95.4 360.3,96 363.1,96.6 365.9,97.1 368.7,97.7 371.5,98.3 374.3,98.9 377.2,99.5 380,100.1 382.8,100.7 385.6,101.3 388.4,101.9 391.2,102.5 394,103.1 396.8,103.7 399.6,104.4 402.4,105 405.2,105.6 408.1,106.2 410.9,106.9 413.7,107.5 416.5,108.2 419.3,108.8 422.1,109.5 424.9,110.1 427.7,110.8 430.5,111.4 433.4,112.1 436.2,112.7 439,113.4 441.8,114.1 444.6,114.8 447.4,115.4 447.4,148.7 444.6,146.1 441.8,143.7 439,141.3 436.2,139 433.4,136.7 430.5,134.5 427.7,132.4 424.9,130.4 422.1,128.4 419.3,126.5 416.5,124.7 413.7,122.9 410.9,121.2 408.1,119.6 405.2,118.1 402.4,116.6 399.6,115.2 396.8,113.9 394,112.6 391.2,111.4 388.4,110.3 385.6,109.3 382.8,108.3 380,107.4 377.2,106.5 374.3,105.8 371.5,105.1 368.7,104.5 365.9,103.9 363.1,103.4 360.3,103 357.5,102.7 354.7,102.4 351.9,102.2 349.1,102.1 346.2,102.1 343.4,102.1 340.6,102.2 337.8,102.3 335,102.6 332.2,102.9 329.4,103.2 326.6,103.7 323.8,104.2 321,104.8 318.1,105.4 315.3,106.2 312.5,107 309.7,107.8 306.9,108.8 304.1,109.8 301.3,110.9 298.5,112 295.7,113.2 292.9,114.5 290,115.9 287.2,117.3 284.4,118.8 281.6,120.4 278.8,122.1" fill="#999999" fill-opacity="0.12"/>
<polygon points="278.8,70.2 281.6,70.5 284.4,70.8 287.2,71.1 290,71.5 292.9,71.9 295.7,72.3 298.5,72.8 301.3,73.2 304.1,73.7 306.9,74.3 309.7,74.8 312.5,75.4 315.3,76.1 318.1,76.7 321,77.4 323.8,78.1 326.6,78.9 329.4,79.6 332.2,80.4 335,81.2 337.8,82.1 340.6,83 343.4,83.9 346.2,84.8 349.1,85.8 351.9,86.8 354.7,87.8 357.5,88.9 360.3,90 363.1,91.1 365.9,92.3 368.7,93.4 371.5,94.6 374.3,95.9 377.2,97.1 380,98.4 382.8,99.7 385.6,101.1 388.4,102.5 391.2,103.9 394,105.3 396.8,106.8 399.6,108.3 402.4,109.8 405.2,111.4 408.1,112.9 410.9,114.5 413.7,116.2 416.5,117.9 419.3,119.6 422.1,121.3 424.9,123 427.7,124.8 430.5,126.6 433.4,128.5 436.2,130.3 439,132.3 441.8,134.2 444.6,136.1 447.4,138.1 447.4,164.7 444.6,161.2 441.8,157.8 439,154.5 436.2,151.3 433.4,148.2 430.5,145.1 427.7,142.1 424.9,139.2 422.1,136.4 419.3,133.7 416.5,131.1 413.7,128.5 410.9,126 408.1,123.6 405.2,121.3 402.4,119.1 399.6,117 396.8,114.9 394,112.9 391.2,111 388.4,109.2 385.6,107.5 382.8,105.8 380,104.3 377.2,102.8 374.3,101.4 371.5,100.1 368.7,98.8 365.9,97.7 363.1,96.6 360.3,95.6 357.5,94.7 354.7,93.9 351.9,93.2 349.1,92.5 346.2,92 343.4,91.5 340.6,91.1 337.8,90.8 335,90.5 332.2,90.4 329.4,90.3 326.6,90.3 323.8,90.4 321,90.6 318.1,90.9 315.3,91.2 312.5,91.7 309.7,92.2 306.9,92.8 304.1,93.4 301.3,94.2 298.5,95 295.7,96 292.9,97 290,98.1 287.2,99.3 284.4,100.5 281.6,101.9 278.8,103.3" fill="#E69F00" fill-opacity="0.12"/>
<polygon points="278.8,58.5 281.6,58.6 284.4,58.8 287.2,59 290,59.3 292.9,59.7 295.7,60.1 298.5,60.5 301.3,61 304.1,61.6 306.9,62.2 309.7,62.9 312.5,63.6 315.3,64.4 318.1,65.2 321,66.1 323.8,67 326.6,68 329.4,69 332.2,70.1 335,71.2 337.8,72.4 340.6,73.6 343.4,74.9 346.2,76.3 349.1,77.7 351.9,79.1 354.7,80.6 357.5,82.2 360.3,83.8 363.1,85.5 365.9,87.2 368.7,89 371.5,90.8 374.3,92.6 377.2,94.6 380,96.6 382.8,98.6 385.6,100.7 388.4,102.8 391.2,105 394,107.2 396.8,109.5 399.6,111.9 402.4,114.3 405.2,116.7 408.1,119.2 410.9,121.8 413.7,124.4 416.5,127.1 419.3,129.8 422.1,132.5 424.9,135.4 427.7,138.2 430.5,141.2 433.4,144.1 436.2,147.2 439,150.2 441.8,153.4 444.6,156.6 447.4,159.8 447.4,181.7 444.6,177.3 441.8,172.9 439,168.6 436.2,164.5 433.4,160.4 430.5,156.4 427.7,152.5 424.9,148.7 422.1,145 419.3,141.5 416.5,138 413.7,134.6 410.9,131.3 408.1,128.1 405.2,124.9 402.4,121.9 399.6,119 396.8,116.2 394,113.5 391.2,110.9 388.4,108.4 385.6,105.9 382.8,103.6 380,101.4 377.2,99.2 374.3,97.2 371.5,95.3 368.7,93.4 365.9,91.7 363.1,90 360.3,88.5 357.5,87 354.7,85.7 351.9,84.4 349.1,83.2 346.2,82.2 343.4,81.2 340.6,80.3 337.8,79.6 335,78.9 332.2,78.3 329.4,77.8 326.6,77.4 323.8,77.1 321,77 318.1,76.9 315.3,76.9 312.5,77 309.7,77.2 306.9,77.5 304.1,77.9 301.3,78.3 298.5,78.9 295.7,79.6 292.9,80.4 290,81.3 287.2,82.2 284.4,83.3 281.6,84.5 278.8,85.8" fill="#56B4E9" fill-opacity="0.12"/>
<polygon points="278.8,43.8 281.6,44 284.4,44.2 287.2,44.5 290,44.9 292.9,45.3 295.7,45.8 298.5,46.4 301.3,47 304.1,47.7 306.9,48.5 309.7,49.4 312.5,50.3 315.3,51.3 318.1,52.4 321,53.6 323.8,54.8 326.6,56.1 329.4,57.4 332.2,58.9 335,60.4 337.8,61.9 340.6,63.6 343.4,65.3 346.2,67.1 349.1,69 351.9,70.9 354.7,72.9 357.5,75 360.3,77.1 363.1,79.3 365.9,81.6 368.7,84 371.5,86.4 374.3,88.9 377.2,91.5 380,94.2 382.8,96.9 385.6,99.7 388.4,102.5 391.2,105.5 394,108.5 396.8,111.6 399.6,114.7 402.4,117.9 405.2,121.2 408.1,124.6 410.9,128 413.7,131.5 416.5,135.1 419.3,138.8 422.1,142.5 424.9,146.3 427.7,150.1 430.5,154.1 433.4,158.1 436.2,162.1 439,166.3 441.8,170.5 444.6,174.8 447.4,179.2 447.4,201.1 444.6,195.5 441.8,190 439,184.7 436.2,179.4 433.4,174.3 430.5,169.3 427.7,164.4 424.9,159.6 422.1,155 419.3,150.4 416.5,146 413.7,141.7 410.9,137.5 408.1,133.4 405.2,129.4 402.4,125.6 399.6,121.9 396.8,118.2 394,114.7 391.2,111.4 388.4,108.1 385.6,104.9 382.8,101.9 380,99 377.2,96.2 374.3,93.5 371.5,90.9 368.7,88.5 365.9,86.1 363.1,83.9 360.3,81.8 357.5,79.8 354.7,77.9 351.9,76.2 349.1,74.5 346.2,73 343.4,71.6 340.6,70.3 337.8,69.1 335,68 332.2,67.1 329.4,66.3 326.6,65.5 323.8,64.9 321,64.5 318.1,64.1 315.3,63.8 312.5,63.7 309.7,63.7 306.9,63.8 304.1,64 301.3,64.3 298.5,64.8 295.7,65.3 292.9,66 290,66.8 287.2,67.7 284.4,68.7 281.6,69.9 278.8,71.1" fill="#009E73" fill-opacity="0.12"/>
<polygon points="278.8,26.3 281.6,26.6 284.4,27 287.2,27.5 290,28 292.9,28.7 295.7,29.4 298.5,30.2 301.3,31.2 304.1,32.1 306.9,33.2 309.7,34.4 312.5,35.6 315.3,37 318.1,38.4 321,39.9 323.8,41.5 326.6,43.2 329.4,44.9 332.2,46.8 335,48.7 337.8,50.7 340.6,52.8 343.4,55 346.2,57.3 349.1,59.6 351.9,62.1 354.7,64.6 357.5,67.2 360.3,69.9 363.1,72.7 365.9,75.6 368.7,78.6 371.5,81.6 374.3,84.7 377.2,88 380,91.3 382.8,94.7 385.6,98.1 388.4,101.7 391.2,105.3 394,109.1 396.8,112.9 399.6,116.8 402.4,120.8 405.2,124.8 408.1,129 410.9,133.2 413.7,137.6 416.5,142 419.3,146.5 422.1,151.1 424.9,155.7 427.7,160.5 430.5,165.3 433.4,170.3 436.2,175.3 439,180.4 441.8,185.6 444.6,190.8 447.4,196.2 447.4,222.8 444.6,216 441.8,209.2 439,202.7 436.2,196.3 433.4,190 430.5,183.8 427.7,177.8 424.9,172 422.1,166.2 419.3,160.6 416.5,155.2 413.7,149.9 410.9,144.7 408.1,139.7 405.2,134.8 402.4,130.1 399.6,125.5 396.8,121 394,116.7 391.2,112.5 388.4,108.4 385.6,104.5 382.8,100.7 380,97.1 377.2,93.6 374.3,90.3 371.5,87 368.7,84 365.9,81 363.1,78.2 360.3,75.6 357.5,73.1 354.7,70.7 351.9,68.5 349.1,66.4 346.2,64.4 343.4,62.6 340.6,60.9 337.8,59.4 335,58 332.2,56.7 329.4,55.6 326.6,54.6 323.8,53.8 321,53.1 318.1,52.5 315.3,52.1 312.5,51.8 309.7,51.7 306.9,51.7 304.1,51.8 301.3,52.1 298.5,52.5 295.7,53.1 292.9,53.8 290,54.6 287.2,55.6 284.4,56.7 281.6,58 278.8,59.4" fill="#F0E442" fill-opacity="0.12"/>
<polygon points="278.8,7.5 281.6,8.1 284.4,8.7 287.2,9.4 290,10.2 292.9,11.2 295.7,12.2 298.5,13.3 301.3,14.5 304.1,15.8 306.9,17.2 309.7,18.7 312.5,20.3 315.3,22 318.1,23.8 321,25.7 323.8,27.7 326.6,29.8 329.4,32 332.2,34.3 335,36.7 337.8,39.2 340.6,41.8 343.4,44.4 346.2,47.2 349.1,50.1 351.9,53.1 354.7,56.1 357.5,59.3 360.3,62.6 363.1,65.9 365.9,69.4 368.7,72.9 371.5,76.6 374.3,80.4 377.2,84.2 380,88.2 382.8,92.2 385.6,96.3 388.4,100.6 391.2,104.9 394,109.4 396.8,113.9 399.6,118.5 402.4,123.3 405.2,128.1 408.1,133 410.9,138 413.7,143.2 416.5,148.4 419.3,153.7 422.1,159.1 424.9,164.6 427.7,170.2 430.5,175.9 433.4,181.7 436.2,187.7 439,193.7 441.8,199.8 444.6,205.9 447.4,212.2 447.4,245.5 444.6,237.3 441.8,229.3 439,221.5 436.2,213.9 433.4,206.4 430.5,199 427.7,191.9 424.9,184.9 422.1,178.1 419.3,171.4 416.5,164.9 413.7,158.6 410.9,152.4 408.1,146.4 405.2,140.6 402.4,134.9 399.6,129.4 396.8,124 394,118.9 391.2,113.8 388.4,109 385.6,104.3 382.8,99.8 380,95.4 377.2,91.3 374.3,87.2 371.5,83.4 368.7,79.7 365.9,76.2 363.1,72.8 360.3,69.6 357.5,66.6 354.7,63.7 351.9,61 349.1,58.5 346.2,56.1 343.4,53.9 340.6,51.9 337.8,50 335,48.3 332.2,46.8 329.4,45.4 326.6,44.2 323.8,43.1 321,42.3 318.1,41.5 315.3,41 312.5,40.6 309.7,40.4 306.9,40.3 304.1,40.4 301.3,40.7 298.5,41.2 295.7,41.8 292.9,42.5 290,43.5 287.2,44.6 284.4,45.8 281.6,47.3 278.8,48.9" fill="#0072B2" fill-opacity="0.12"/>
<rect x="272" y="2" width="20" height="19.2" fill="#fff"/>
<polyline points="278.8,101.4 281.6,100.8 284.4,100.3 287.2,99.7 290,99.3 292.9,98.8 295.7,98.4 298.5,98.1 301.3,97.7 304.1,97.5 306.9,97.2 309.7,97 312.5,96.8 315.3,96.7 318.1,96.6 321,96.5 323.8,96.5 326.6,96.5 329.4,96.5 332.2,96.6 335,96.7 337.8,96.9 340.6,97.1 343.4,97.3 346.2,97.6 349.1,97.9 351.9,98.2 354.7,98.6 357.5,99 360.3,99.5 363.1,100 365.9,100.5 368.7,101.1 371.5,101.7 374.3,102.3 377.2,103 380,103.7 382.8,104.5 385.6,105.3 388.4,106.1 391.2,107 394,107.9 396.8,108.8 399.6,109.8 402.4,110.8 405.2,111.8 408.1,112.9 410.9,114.1 413.7,115.2 416.5,116.4 419.3,117.7 422.1,118.9 424.9,120.2 427.7,121.6 430.5,123 433.4,124.4 436.2,125.9 439,127.3 441.8,128.9 444.6,130.5 447.4,132.1" fill="none" stroke="#999999" stroke-width="2.9" stroke-linejoin="round"/>
<polyline points="278.8,86.8 281.6,86.2 284.4,85.7 287.2,85.2 290,84.8 292.9,84.4 295.7,84.1 298.5,83.9 301.3,83.7 304.1,83.6 306.9,83.5 309.7,83.5 312.5,83.5 315.3,83.6 318.1,83.8 321,84 323.8,84.3 326.6,84.6 329.4,85 332.2,85.4 335,85.9 337.8,86.4 340.6,87 343.4,87.7 346.2,88.4 349.1,89.2 351.9,90 354.7,90.9 357.5,91.8 360.3,92.8 363.1,93.9 365.9,95 368.7,96.1 371.5,97.4 374.3,98.6 377.2,100 380,101.3 382.8,102.8 385.6,104.3 388.4,105.8 391.2,107.4 394,109.1 396.8,110.8 399.6,112.6 402.4,114.5 405.2,116.3 408.1,118.3 410.9,120.3 413.7,122.3 416.5,124.5 419.3,126.6 422.1,128.9 424.9,131.1 427.7,133.5 430.5,135.9 433.4,138.3 436.2,140.8 439,143.4 441.8,146 444.6,148.7 447.4,151.4" fill="none" stroke="#E69F00" stroke-width="2.9" stroke-linejoin="round"/>
<polyline points="278.8,72.1 281.6,71.6 284.4,71.1 287.2,70.6 290,70.3 292.9,70 295.7,69.8 298.5,69.7 301.3,69.7 304.1,69.7 306.9,69.8 309.7,70 312.5,70.3 315.3,70.6 318.1,71 321,71.5 323.8,72.1 326.6,72.7 329.4,73.4 332.2,74.2 335,75 337.8,76 340.6,77 343.4,78.1 346.2,79.2 349.1,80.5 351.9,81.8 354.7,83.1 357.5,84.6 360.3,86.1 363.1,87.7 365.9,89.4 368.7,91.2 371.5,93 374.3,94.9 377.2,96.9 380,99 382.8,101.1 385.6,103.3 388.4,105.6 391.2,107.9 394,110.4 396.8,112.9 399.6,115.5 402.4,118.1 405.2,120.8 408.1,123.6 410.9,126.5 413.7,129.5 416.5,132.5 419.3,135.6 422.1,138.8 424.9,142 427.7,145.4 430.5,148.8 433.4,152.3 436.2,155.8 439,159.4 441.8,163.1 444.6,166.9 447.4,170.8" fill="none" stroke="#56B4E9" stroke-width="2.9" stroke-linejoin="round"/>
<polyline points="278.8,57.5 281.6,56.9 284.4,56.5 287.2,56.1 290,55.8 292.9,55.6 295.7,55.6 298.5,55.6 301.3,55.7 304.1,55.9 306.9,56.1 309.7,56.5 312.5,57 315.3,57.6 318.1,58.2 321,59 323.8,59.9 326.6,60.8 329.4,61.8 332.2,63 335,64.2 337.8,65.5 340.6,66.9 343.4,68.4 346.2,70 349.1,71.7 351.9,73.5 354.7,75.4 357.5,77.4 360.3,79.5 363.1,81.6 365.9,83.9 368.7,86.2 371.5,88.7 374.3,91.2 377.2,93.8 380,96.6 382.8,99.4 385.6,102.3 388.4,105.3 391.2,108.4 394,111.6 396.8,114.9 399.6,118.3 402.4,121.8 405.2,125.3 408.1,129 410.9,132.8 413.7,136.6 416.5,140.6 419.3,144.6 422.1,148.7 424.9,153 427.7,157.3 430.5,161.7 433.4,166.2 436.2,170.8 439,175.5 441.8,180.3 444.6,185.2 447.4,190.1" fill="none" stroke="#009E73" stroke-width="2.9" stroke-linejoin="round"/>
<polyline points="278.8,42.8 281.6,42.3 284.4,41.9 287.2,41.5 290,41.3 292.9,41.2 295.7,41.3 298.5,41.4 301.3,41.6 304.1,42 306.9,42.5 309.7,43 312.5,43.7 315.3,44.5 318.1,45.5 321,46.5 323.8,47.6 326.6,48.9 329.4,50.3 332.2,51.8 335,53.3 337.8,55.1 340.6,56.9 343.4,58.8 346.2,60.9 349.1,63 351.9,65.3 354.7,67.7 357.5,70.2 360.3,72.8 363.1,75.5 365.9,78.3 368.7,81.3 371.5,84.3 374.3,87.5 377.2,90.8 380,94.2 382.8,97.7 385.6,101.3 388.4,105.1 391.2,108.9 394,112.9 396.8,116.9 399.6,121.1 402.4,125.4 405.2,129.8 408.1,134.4 410.9,139 413.7,143.7 416.5,148.6 419.3,153.6 422.1,158.7 424.9,163.9 427.7,169.2 430.5,174.6 433.4,180.1 436.2,185.8 439,191.5 441.8,197.4 444.6,203.4 447.4,209.5" fill="none" stroke="#F0E442" stroke-width="2.9" stroke-linejoin="round"/>
<polyline points="278.8,28.2 281.6,27.7 284.4,27.3 287.2,27 290,26.9 292.9,26.8 295.7,27 298.5,27.2 301.3,27.6 304.1,28.1 306.9,28.8 309.7,29.6 312.5,30.5 315.3,31.5 318.1,32.7 321,34 323.8,35.4 326.6,37 329.4,38.7 332.2,40.5 335,42.5 337.8,44.6 340.6,46.8 343.4,49.2 346.2,51.7 349.1,54.3 351.9,57 354.7,59.9 357.5,62.9 360.3,66.1 363.1,69.4 365.9,72.8 368.7,76.3 371.5,80 374.3,83.8 377.2,87.7 380,91.8 382.8,96 385.6,100.3 388.4,104.8 391.2,109.4 394,114.1 396.8,119 399.6,124 402.4,129.1 405.2,134.3 408.1,139.7 410.9,145.2 413.7,150.9 416.5,156.6 419.3,162.5 422.1,168.6 424.9,174.8 427.7,181.1 430.5,187.5 433.4,194.1 436.2,200.8 439,207.6 441.8,214.5 444.6,221.6 447.4,228.9" fill="none" stroke="#0072B2" stroke-width="2.9" stroke-linejoin="round"/>
<path d="M382 85.5h3.1v3.1h-3.1zM346.8 135.8h3.1v3.1h-3.1zM388.9 57.8h3.1v3.1h-3.1zM390.3 99.3h3.1v3.1h-3.1zM402.7 109.6h3.1v3.1h-3.1zM393.4 82.9h3.1v3.1h-3.1zM389.6 93h3.1v3.1h-3.1zM386.6 87h3.1v3.1h-3.1zM410.5 100h3.1v3.1h-3.1z" fill="#999999"/>
<path d="M369.1 200.8h3.1v3.1h-3.1zM346.8 160.6h3.1v3.1h-3.1zM377.3 163.2h3.1v3.1h-3.1zM392.3 87.4h3.1v3.1h-3.1zM340.8 118.9h3.1v3.1h-3.1zM381.4 77.3h3.1v3.1h-3.1zM402.1 96.9h3.1v3.1h-3.1zM341.3 84.1h3.1v3.1h-3.1zM358.2 174.3h3.1v3.1h-3.1zM385 66.9h3.1v3.1h-3.1zM369.8 117.5h3.1v3.1h-3.1z" fill="#E69F00"/>
<path d="M384.3 201.4h3.1v3.1h-3.1zM393.9 115.4h3.1v3.1h-3.1zM361.4 92h3.1v3.1h-3.1zM411.8 195.9h3.1v3.1h-3.1zM375.2 117.6h3.1v3.1h-3.1zM371.1 135.1h3.1v3.1h-3.1zM394.1 158.2h3.1v3.1h-3.1zM303.7 49.5h3.1v3.1h-3.1zM377.4 97.1h3.1v3.1h-3.1zM381.2 102.2h3.1v3.1h-3.1zM370.2 157.6h3.1v3.1h-3.1zM379.8 109.9h3.1v3.1h-3.1zM355.9 112.6h3.1v3.1h-3.1zM365.4 126.5h3.1v3.1h-3.1z" fill="#56B4E9"/>
<path d="M348 42.3h3.1v3.1h-3.1zM322 71.2h3.1v3.1h-3.1zM313.1 74h3.1v3.1h-3.1zM355.7 95.2h3.1v3.1h-3.1zM337.5 83.3h3.1v3.1h-3.1zM330.4 57.2h3.1v3.1h-3.1zM379.7 114.2h3.1v3.1h-3.1zM355.4 65.4h3.1v3.1h-3.1zM368.1 93.7h3.1v3.1h-3.1zM352 74.4h3.1v3.1h-3.1zM374 65.6h3.1v3.1h-3.1zM380.3 74h3.1v3.1h-3.1zM366 124.1h3.1v3.1h-3.1z" fill="#009E73"/>
<path d="M381 112.6h3.1v3.1h-3.1zM355.5 42.1h3.1v3.1h-3.1zM366.7 85.2h3.1v3.1h-3.1zM359.4 78.8h3.1v3.1h-3.1zM363.5 51.4h3.1v3.1h-3.1zM343.4 59.5h3.1v3.1h-3.1zM346.3 59h3.1v3.1h-3.1zM332.6 47.9h3.1v3.1h-3.1z" fill="#F0E442"/>
<path d="M357.9 36.8h3.1v3.1h-3.1zM379.6 61.1h3.1v3.1h-3.1zM364.3 39.6h3.1v3.1h-3.1zM365 77.2h3.1v3.1h-3.1zM374.5 62.6h3.1v3.1h-3.1zM313.7 93.1h3.1v3.1h-3.1zM348.5 32.9h3.1v3.1h-3.1zM368.6 62.3h3.1v3.1h-3.1zM376.7 76.6h3.1v3.1h-3.1z" fill="#0072B2"/>
<path d="M371.1 72.5h3.1v3.1h-3.1zM401.8 119.6h3.1v3.1h-3.1zM350.9 189.6h3.1v3.1h-3.1zM349.6 148.8h3.1v3.1h-3.1zM395.4 70.7h3.1v3.1h-3.1zM414.7 113.9h3.1v3.1h-3.1zM370.9 173.8h3.1v3.1h-3.1zM403.7 90h3.1v3.1h-3.1zM360.8 87.7h3.1v3.1h-3.1zM418.7 107.4h3.1v3.1h-3.1zM359.7 93.4h3.1v3.1h-3.1z" fill="#999999"/>
<path d="M365.4 115.3h3.1v3.1h-3.1zM351.6 233.2h3.1v3.1h-3.1zM379.2 152h3.1v3.1h-3.1zM406 119.1h3.1v3.1h-3.1zM387.8 120.1h3.1v3.1h-3.1zM390.6 66.8h3.1v3.1h-3.1zM375.6 81.5h3.1v3.1h-3.1zM387 115.8h3.1v3.1h-3.1zM331.8 175.9h3.1v3.1h-3.1zM366.1 80.9h3.1v3.1h-3.1zM398.4 68.9h3.1v3.1h-3.1zM370.9 170.5h3.1v3.1h-3.1z" fill="#E69F00"/>
<path d="M367.5 118.7h3.1v3.1h-3.1zM355.5 71.3h3.1v3.1h-3.1zM352.5 61.7h3.1v3.1h-3.1zM348.8 178.1h3.1v3.1h-3.1zM386.3 68.4h3.1v3.1h-3.1zM373 66.5h3.1v3.1h-3.1zM377.4 53.4h3.1v3.1h-3.1zM366.6 94.9h3.1v3.1h-3.1zM384.1 76.6h3.1v3.1h-3.1zM369.1 87.9h3.1v3.1h-3.1zM363.5 95.4h3.1v3.1h-3.1zM352.4 85.7h3.1v3.1h-3.1z" fill="#56B4E9"/>
<path d="M368.1 124.8h3.1v3.1h-3.1zM350.7 37.3h3.1v3.1h-3.1zM358 57.5h3.1v3.1h-3.1zM314.8 85.9h3.1v3.1h-3.1zM366.4 142.6h3.1v3.1h-3.1zM358.3 82h3.1v3.1h-3.1zM366.5 101h3.1v3.1h-3.1zM352 81.1h3.1v3.1h-3.1zM352.2 43.6h3.1v3.1h-3.1zM364.8 121.1h3.1v3.1h-3.1zM366.2 87.8h3.1v3.1h-3.1zM359.3 79.4h3.1v3.1h-3.1zM359.8 78.4h3.1v3.1h-3.1zM353.6 93.9h3.1v3.1h-3.1zM356.9 71h3.1v3.1h-3.1z" fill="#009E73"/>
<path d="M342.7 32.6h3.1v3.1h-3.1zM312.5 25.1h3.1v3.1h-3.1zM368.3 79.6h3.1v3.1h-3.1zM348.5 78.6h3.1v3.1h-3.1zM298.6 49.8h3.1v3.1h-3.1zM358 105.8h3.1v3.1h-3.1zM380.7 76.6h3.1v3.1h-3.1zM378.3 112.1h3.1v3.1h-3.1zM364.5 84.4h3.1v3.1h-3.1zM361.6 72.4h3.1v3.1h-3.1zM324.7 21.5h3.1v3.1h-3.1zM286.2 20.8h3.1v3.1h-3.1z" fill="#F0E442"/>
<path d="M369.4 86.6h3.1v3.1h-3.1zM372.9 83.5h3.1v3.1h-3.1z" fill="#0072B2"/>
<path d="M389.8 67.9h3.1v3.1h-3.1zM374.3 128.2h3.1v3.1h-3.1zM375.7 99.6h3.1v3.1h-3.1zM400.9 120.9h3.1v3.1h-3.1zM395 65.8h3.1v3.1h-3.1zM389 56.9h3.1v3.1h-3.1zM381 120.5h3.1v3.1h-3.1zM385.5 76.7h3.1v3.1h-3.1zM390.9 107.4h3.1v3.1h-3.1zM383.6 64.3h3.1v3.1h-3.1zM383 111h3.1v3.1h-3.1zM379.3 98.1h3.1v3.1h-3.1z" fill="#999999"/>
<path d="M382.4 154.4h3.1v3.1h-3.1zM364.2 120.2h3.1v3.1h-3.1zM398.4 123.1h3.1v3.1h-3.1zM406.8 150.8h3.1v3.1h-3.1zM391.2 118h3.1v3.1h-3.1zM373.1 114h3.1v3.1h-3.1zM356.7 73h3.1v3.1h-3.1zM407.4 107.5h3.1v3.1h-3.1z" fill="#E69F00"/>
<path d="M365 114.1h3.1v3.1h-3.1zM356.9 58.1h3.1v3.1h-3.1zM378.8 68.3h3.1v3.1h-3.1zM354.6 70.4h3.1v3.1h-3.1zM362.5 92.4h3.1v3.1h-3.1zM369.3 150.3h3.1v3.1h-3.1zM366.3 123.5h3.1v3.1h-3.1zM352.1 52.8h3.1v3.1h-3.1zM358.6 42.8h3.1v3.1h-3.1zM383.2 90.4h3.1v3.1h-3.1zM389.6 128.2h3.1v3.1h-3.1zM375.2 70.9h3.1v3.1h-3.1zM368.6 69.2h3.1v3.1h-3.1zM380 100.3h3.1v3.1h-3.1zM371.4 109.7h3.1v3.1h-3.1zM399.6 172.8h3.1v3.1h-3.1zM398.3 100.7h3.1v3.1h-3.1zM376.4 95.9h3.1v3.1h-3.1z" fill="#56B4E9"/>
<path d="M355.8 94.3h3.1v3.1h-3.1zM380.7 112.3h3.1v3.1h-3.1zM305 84.6h3.1v3.1h-3.1zM369.2 106.5h3.1v3.1h-3.1zM351 65.9h3.1v3.1h-3.1zM378.2 90.6h3.1v3.1h-3.1zM354.8 76.9h3.1v3.1h-3.1z" fill="#009E73"/>
<path d="M388.9 142.6h3.1v3.1h-3.1zM372.3 79.8h3.1v3.1h-3.1zM368.7 68.5h3.1v3.1h-3.1zM385.4 96.2h3.1v3.1h-3.1zM373.9 115.4h3.1v3.1h-3.1zM352.6 69.1h3.1v3.1h-3.1zM374.6 85.1h3.1v3.1h-3.1zM363.6 164.1h3.1v3.1h-3.1z" fill="#F0E442"/>
<path d="M369.3 87.3h3.1v3.1h-3.1zM346.9 69.7h3.1v3.1h-3.1zM364.3 70.6h3.1v3.1h-3.1zM345.1 21.9h3.1v3.1h-3.1zM344.1 45.7h3.1v3.1h-3.1zM342.3 79.9h3.1v3.1h-3.1zM369.1 63.3h3.1v3.1h-3.1zM351.7 43.8h3.1v3.1h-3.1zM362.4 103.9h3.1v3.1h-3.1zM350.4 74.3h3.1v3.1h-3.1zM336.2 64.4h3.1v3.1h-3.1z" fill="#0072B2"/>
<path d="M417.5 87h3.1v3.1h-3.1zM387.8 121.1h3.1v3.1h-3.1zM371.9 117.1h3.1v3.1h-3.1zM393.6 106.6h3.1v3.1h-3.1zM388.8 111.2h3.1v3.1h-3.1zM404.8 69.9h3.1v3.1h-3.1zM388.5 86.6h3.1v3.1h-3.1zM397.3 81.8h3.1v3.1h-3.1zM369.7 106.8h3.1v3.1h-3.1zM356.2 88.5h3.1v3.1h-3.1zM389.5 61.9h3.1v3.1h-3.1z" fill="#999999"/>
<path d="M334.4 202.3h3.1v3.1h-3.1zM400.1 110.4h3.1v3.1h-3.1zM375.1 58.2h3.1v3.1h-3.1zM413.7 103.8h3.1v3.1h-3.1zM374.2 107.2h3.1v3.1h-3.1zM405.8 148.8h3.1v3.1h-3.1zM373.9 127.4h3.1v3.1h-3.1zM399.8 146.9h3.1v3.1h-3.1zM397.9 144.1h3.1v3.1h-3.1zM389.3 111.8h3.1v3.1h-3.1z" fill="#E69F00"/>
<path d="M365.2 108.4h3.1v3.1h-3.1zM362.7 88.6h3.1v3.1h-3.1zM366 112h3.1v3.1h-3.1zM360.3 108.2h3.1v3.1h-3.1zM388.3 118.8h3.1v3.1h-3.1zM363.3 70.1h3.1v3.1h-3.1zM369.1 81.6h3.1v3.1h-3.1zM357.7 51.9h3.1v3.1h-3.1zM344.8 53.4h3.1v3.1h-3.1zM369.1 109.6h3.1v3.1h-3.1zM342.3 191.2h3.1v3.1h-3.1z" fill="#56B4E9"/>
<path d="M354.1 48.8h3.1v3.1h-3.1zM358 71.6h3.1v3.1h-3.1zM358.1 92.8h3.1v3.1h-3.1zM366 118.7h3.1v3.1h-3.1zM389.6 54.8h3.1v3.1h-3.1zM349.9 74.7h3.1v3.1h-3.1zM353.8 84h3.1v3.1h-3.1zM338.4 124h3.1v3.1h-3.1zM346.8 113.2h3.1v3.1h-3.1zM368.1 113.2h3.1v3.1h-3.1z" fill="#009E73"/>
<path d="M329.6 37.5h3.1v3.1h-3.1zM359.5 79.7h3.1v3.1h-3.1zM359.8 89.5h3.1v3.1h-3.1zM379 99h3.1v3.1h-3.1zM373.2 118.5h3.1v3.1h-3.1zM364.5 49.1h3.1v3.1h-3.1zM366.4 84h3.1v3.1h-3.1zM340.4 65.8h3.1v3.1h-3.1zM368.6 47.4h3.1v3.1h-3.1zM362.5 94.4h3.1v3.1h-3.1zM333 52.6h3.1v3.1h-3.1zM351.8 82.1h3.1v3.1h-3.1zM356.9 86.1h3.1v3.1h-3.1zM298.2 93.2h3.1v3.1h-3.1z" fill="#F0E442"/>
<path d="M363.9 72.3h3.1v3.1h-3.1zM387.2 112.6h3.1v3.1h-3.1zM380.5 111.9h3.1v3.1h-3.1zM358.3 101.8h3.1v3.1h-3.1zM342.2 61.9h3.1v3.1h-3.1zM304.3 42.8h3.1v3.1h-3.1zM349.6 57.9h3.1v3.1h-3.1zM318.4 104.2h3.1v3.1h-3.1z" fill="#0072B2"/>
<path d="M400.1 64.1h3.1v3.1h-3.1zM408.2 105.6h3.1v3.1h-3.1zM387.8 102.4h3.1v3.1h-3.1zM404 109.2h3.1v3.1h-3.1zM399.8 99.1h3.1v3.1h-3.1zM398.9 107.3h3.1v3.1h-3.1zM420.6 121.5h3.1v3.1h-3.1zM367.8 118.9h3.1v3.1h-3.1zM392.6 111.4h3.1v3.1h-3.1zM376.2 153.8h3.1v3.1h-3.1zM347.8 153.1h3.1v3.1h-3.1z" fill="#999999"/>
<path d="M350.3 171.1h3.1v3.1h-3.1zM358.1 125.5h3.1v3.1h-3.1zM382.8 69.1h3.1v3.1h-3.1zM363.4 111.5h3.1v3.1h-3.1zM397.4 93.1h3.1v3.1h-3.1zM395.7 115.9h3.1v3.1h-3.1zM376.3 77h3.1v3.1h-3.1zM346.8 160.9h3.1v3.1h-3.1zM382.7 89.9h3.1v3.1h-3.1zM406.6 180.8h3.1v3.1h-3.1zM347.9 43.6h3.1v3.1h-3.1zM395.1 73.7h3.1v3.1h-3.1zM393.3 76h3.1v3.1h-3.1zM388.5 119h3.1v3.1h-3.1zM370.4 112.5h3.1v3.1h-3.1zM379.9 40.3h3.1v3.1h-3.1zM388.4 124.5h3.1v3.1h-3.1zM399 68.9h3.1v3.1h-3.1zM418.8 175.9h3.1v3.1h-3.1z" fill="#E69F00"/>
<path d="M354.5 93.5h3.1v3.1h-3.1zM388.6 133.8h3.1v3.1h-3.1zM359.4 78.7h3.1v3.1h-3.1zM379.7 85.3h3.1v3.1h-3.1zM370.4 63.6h3.1v3.1h-3.1zM366.1 54.5h3.1v3.1h-3.1zM380.4 86.3h3.1v3.1h-3.1zM321.4 102.9h3.1v3.1h-3.1z" fill="#56B4E9"/>
<path d="M349.5 69.1h3.1v3.1h-3.1zM381.4 56.3h3.1v3.1h-3.1zM380.9 134.9h3.1v3.1h-3.1zM347.2 65.9h3.1v3.1h-3.1zM348.4 104.5h3.1v3.1h-3.1zM360.9 55.8h3.1v3.1h-3.1zM338.6 59h3.1v3.1h-3.1zM351.8 59.8h3.1v3.1h-3.1zM339.7 56h3.1v3.1h-3.1zM367.9 107.6h3.1v3.1h-3.1zM286 74.9h3.1v3.1h-3.1z" fill="#009E73"/>
<path d="M381.7 47.6h3.1v3.1h-3.1zM351.2 34.7h3.1v3.1h-3.1zM352.9 67.5h3.1v3.1h-3.1zM356.6 55.1h3.1v3.1h-3.1zM347.3 81.4h3.1v3.1h-3.1zM358.5 74.5h3.1v3.1h-3.1zM345.5 92.4h3.1v3.1h-3.1zM363.4 77.3h3.1v3.1h-3.1z" fill="#F0E442"/>
<path d="M373.6 50.6h3.1v3.1h-3.1zM340.8 71.3h3.1v3.1h-3.1zM357 64.4h3.1v3.1h-3.1zM360.5 113.8h3.1v3.1h-3.1zM365.8 109.5h3.1v3.1h-3.1zM358.3 74.3h3.1v3.1h-3.1zM378.1 72.6h3.1v3.1h-3.1z" fill="#0072B2"/>
<path d="M379.5 120.6h3.1v3.1h-3.1zM383.8 77.5h3.1v3.1h-3.1zM403.3 96.7h3.1v3.1h-3.1zM372.1 129.1h3.1v3.1h-3.1zM407.4 107.9h3.1v3.1h-3.1zM408.8 97h3.1v3.1h-3.1zM392.7 70.6h3.1v3.1h-3.1zM370.3 72.8h3.1v3.1h-3.1zM378.3 57.7h3.1v3.1h-3.1zM393.6 84.2h3.1v3.1h-3.1zM384.6 86.8h3.1v3.1h-3.1z" fill="#999999"/>
<path d="M372.1 151.6h3.1v3.1h-3.1zM385.3 82.6h3.1v3.1h-3.1zM415.9 108.7h3.1v3.1h-3.1zM377.7 120.8h3.1v3.1h-3.1zM402.8 98.6h3.1v3.1h-3.1zM387.4 79.7h3.1v3.1h-3.1zM374.3 78.9h3.1v3.1h-3.1zM377.8 94.4h3.1v3.1h-3.1zM359.1 147.9h3.1v3.1h-3.1z" fill="#E69F00"/>
<path d="M365.7 39.9h3.1v3.1h-3.1zM373.8 122.6h3.1v3.1h-3.1zM317 64.7h3.1v3.1h-3.1zM349.3 164.1h3.1v3.1h-3.1zM390.4 135.8h3.1v3.1h-3.1zM385.8 125.1h3.1v3.1h-3.1zM356.2 64.8h3.1v3.1h-3.1zM384.2 88.2h3.1v3.1h-3.1zM384.8 106.6h3.1v3.1h-3.1z" fill="#56B4E9"/>
<path d="M356.4 62.9h3.1v3.1h-3.1zM373.2 201.4h3.1v3.1h-3.1zM364 95.8h3.1v3.1h-3.1zM345.8 80.7h3.1v3.1h-3.1zM348.5 102.3h3.1v3.1h-3.1zM359.6 59.1h3.1v3.1h-3.1zM371.1 80.1h3.1v3.1h-3.1zM345.4 25.5h3.1v3.1h-3.1zM336.9 45.1h3.1v3.1h-3.1zM318.8 132.9h3.1v3.1h-3.1zM371.3 102.4h3.1v3.1h-3.1zM369.5 100.4h3.1v3.1h-3.1z" fill="#009E73"/>
<path d="M365.8 86.7h3.1v3.1h-3.1zM339.9 103.1h3.1v3.1h-3.1zM360 34.7h3.1v3.1h-3.1zM352.8 114.3h3.1v3.1h-3.1zM382.5 79.7h3.1v3.1h-3.1zM332.5 45.2h3.1v3.1h-3.1zM352.2 43.5h3.1v3.1h-3.1zM354.3 56.8h3.1v3.1h-3.1zM341.2 85.8h3.1v3.1h-3.1zM375.5 70h3.1v3.1h-3.1zM366.2 97.8h3.1v3.1h-3.1zM350.9 43.7h3.1v3.1h-3.1zM344.3 47.3h3.1v3.1h-3.1z" fill="#F0E442"/>
<path d="M368 76.4h3.1v3.1h-3.1zM358 51.4h3.1v3.1h-3.1zM347.9 56h3.1v3.1h-3.1zM359.4 36.4h3.1v3.1h-3.1zM333.2 28.8h3.1v3.1h-3.1zM371.6 79.5h3.1v3.1h-3.1zM348.1 116.1h3.1v3.1h-3.1zM376.7 69h3.1v3.1h-3.1zM350.9 65.3h3.1v3.1h-3.1zM357.4 40.9h3.1v3.1h-3.1z" fill="#0072B2"/>
<path d="M379.6 186.4h3.1v3.1h-3.1zM389 93.2h3.1v3.1h-3.1zM379.6 92.5h3.1v3.1h-3.1zM396.4 127.4h3.1v3.1h-3.1zM304.8 238.8h3.1v3.1h-3.1zM368.2 76.8h3.1v3.1h-3.1zM400.2 147.9h3.1v3.1h-3.1zM407.2 112.4h3.1v3.1h-3.1zM382.5 61.5h3.1v3.1h-3.1zM385.2 123.5h3.1v3.1h-3.1z" fill="#999999"/>
<path d="M373.2 108.7h3.1v3.1h-3.1zM350.9 202.9h3.1v3.1h-3.1zM417.8 171.1h3.1v3.1h-3.1zM391.8 62.4h3.1v3.1h-3.1zM394.6 108.8h3.1v3.1h-3.1zM351.3 55.5h3.1v3.1h-3.1zM338.2 167h3.1v3.1h-3.1zM361.6 65.1h3.1v3.1h-3.1zM386.9 119.5h3.1v3.1h-3.1zM370.7 88.3h3.1v3.1h-3.1zM283.2 209.1h3.1v3.1h-3.1zM390.3 114.9h3.1v3.1h-3.1z" fill="#E69F00"/>
<path d="M390.3 103h3.1v3.1h-3.1zM370.5 102.6h3.1v3.1h-3.1zM374 100.1h3.1v3.1h-3.1zM338.9 86.6h3.1v3.1h-3.1zM325.4 94.7h3.1v3.1h-3.1zM371.8 139.4h3.1v3.1h-3.1zM377.1 93.5h3.1v3.1h-3.1zM381.3 100.2h3.1v3.1h-3.1zM358.5 99.1h3.1v3.1h-3.1zM364.9 144.4h3.1v3.1h-3.1zM381.7 65.6h3.1v3.1h-3.1z" fill="#56B4E9"/>
<path d="M382.1 61.8h3.1v3.1h-3.1zM359.8 82h3.1v3.1h-3.1zM364.5 67h3.1v3.1h-3.1zM358.2 97.3h3.1v3.1h-3.1zM338.1 113.2h3.1v3.1h-3.1zM356.2 113.7h3.1v3.1h-3.1zM362.4 117h3.1v3.1h-3.1zM366.4 62.1h3.1v3.1h-3.1zM333.4 102.3h3.1v3.1h-3.1zM353.4 105.7h3.1v3.1h-3.1zM363.7 89.7h3.1v3.1h-3.1zM376.6 122h3.1v3.1h-3.1zM360.6 73.9h3.1v3.1h-3.1zM337.1 67.1h3.1v3.1h-3.1z" fill="#009E73"/>
<path d="M338.1 27.9h3.1v3.1h-3.1zM298.1 67.7h3.1v3.1h-3.1zM339.8 43.7h3.1v3.1h-3.1zM352.4 84.6h3.1v3.1h-3.1zM346.9 82.2h3.1v3.1h-3.1zM337.6 40.4h3.1v3.1h-3.1zM370.1 66.4h3.1v3.1h-3.1z" fill="#F0E442"/>
<path d="M360.9 38.9h3.1v3.1h-3.1zM374.1 118.4h3.1v3.1h-3.1zM388.8 109h3.1v3.1h-3.1zM358.1 47.8h3.1v3.1h-3.1zM342.8 33.2h3.1v3.1h-3.1zM364.9 58.5h3.1v3.1h-3.1zM363.4 77.9h3.1v3.1h-3.1zM375.4 73.1h3.1v3.1h-3.1zM373.8 95h3.1v3.1h-3.1zM344.2 48h3.1v3.1h-3.1z" fill="#0072B2"/>
<path d="M404.7 94.6h3.1v3.1h-3.1zM390.1 101.4h3.1v3.1h-3.1zM377 111.4h3.1v3.1h-3.1zM381.7 120.7h3.1v3.1h-3.1zM391.3 110.7h3.1v3.1h-3.1zM397.1 91.2h3.1v3.1h-3.1zM368.3 109.2h3.1v3.1h-3.1z" fill="#999999"/>
<path d="M364.3 52.5h3.1v3.1h-3.1zM385.9 71.6h3.1v3.1h-3.1zM381 108.2h3.1v3.1h-3.1zM364.1 97.1h3.1v3.1h-3.1zM386.7 116.5h3.1v3.1h-3.1zM376.9 115.1h3.1v3.1h-3.1zM381.1 112h3.1v3.1h-3.1zM390.4 70.3h3.1v3.1h-3.1zM391.3 107h3.1v3.1h-3.1zM386.5 81h3.1v3.1h-3.1zM385.5 99.3h3.1v3.1h-3.1zM375.8 92.9h3.1v3.1h-3.1zM388.4 75h3.1v3.1h-3.1zM361.3 51.5h3.1v3.1h-3.1zM411.8 117.8h3.1v3.1h-3.1zM408.6 91.9h3.1v3.1h-3.1zM386.4 113.3h3.1v3.1h-3.1zM381.7 87.7h3.1v3.1h-3.1zM411.1 124.6h3.1v3.1h-3.1z" fill="#E69F00"/>
<path d="M393.9 158.4h3.1v3.1h-3.1zM363.2 59.8h3.1v3.1h-3.1zM382.7 121.5h3.1v3.1h-3.1zM309.4 91.5h3.1v3.1h-3.1zM304.4 48.4h3.1v3.1h-3.1zM376 51.6h3.1v3.1h-3.1zM359 69.6h3.1v3.1h-3.1zM382.1 118.5h3.1v3.1h-3.1zM375.7 95h3.1v3.1h-3.1zM366.5 108h3.1v3.1h-3.1zM311.6 90.2h3.1v3.1h-3.1zM376 104.2h3.1v3.1h-3.1zM374 112h3.1v3.1h-3.1z" fill="#56B4E9"/>
<path d="M388.6 140h3.1v3.1h-3.1zM363.9 68.1h3.1v3.1h-3.1zM357.4 40h3.1v3.1h-3.1zM375.8 65.3h3.1v3.1h-3.1zM365.1 140h3.1v3.1h-3.1zM378.3 102.1h3.1v3.1h-3.1zM380.1 77.3h3.1v3.1h-3.1z" fill="#009E73"/>
<path d="M350.4 52.3h3.1v3.1h-3.1zM353.4 75.9h3.1v3.1h-3.1zM376.8 103.2h3.1v3.1h-3.1zM337.6 49.9h3.1v3.1h-3.1zM379.3 94h3.1v3.1h-3.1zM364.7 80.1h3.1v3.1h-3.1zM350.2 71.3h3.1v3.1h-3.1zM373.6 91.5h3.1v3.1h-3.1zM338.1 82.2h3.1v3.1h-3.1zM347.8 52.9h3.1v3.1h-3.1z" fill="#F0E442"/>
<path d="M356.7 98.8h3.1v3.1h-3.1zM355.6 122.7h3.1v3.1h-3.1zM302.4 34.6h3.1v3.1h-3.1zM346.8 37.7h3.1v3.1h-3.1zM361.7 84h3.1v3.1h-3.1zM351.5 35.2h3.1v3.1h-3.1zM375 93h3.1v3.1h-3.1zM339.9 30.3h3.1v3.1h-3.1z" fill="#0072B2"/>
<path d="M420.6 118h3.1v3.1h-3.1zM417.1 122.2h3.1v3.1h-3.1zM381.8 106.1h3.1v3.1h-3.1zM369.7 77.7h3.1v3.1h-3.1zM399.4 60.7h3.1v3.1h-3.1zM397.6 77.8h3.1v3.1h-3.1zM377 42.5h3.1v3.1h-3.1zM392.3 109.1h3.1v3.1h-3.1zM393.6 122.7h3.1v3.1h-3.1z" fill="#999999"/>
<path d="M377.9 123.1h3.1v3.1h-3.1zM389.7 69.2h3.1v3.1h-3.1zM380.3 73h3.1v3.1h-3.1zM338.4 132.9h3.1v3.1h-3.1zM380.8 102.9h3.1v3.1h-3.1zM366.5 88.9h3.1v3.1h-3.1zM349.3 180h3.1v3.1h-3.1zM374.1 95.4h3.1v3.1h-3.1zM406.8 106.6h3.1v3.1h-3.1zM350.2 87.3h3.1v3.1h-3.1zM364.2 63.1h3.1v3.1h-3.1zM388.2 112.6h3.1v3.1h-3.1zM363.9 92.3h3.1v3.1h-3.1z" fill="#E69F00"/>
<path d="M355.4 77.8h3.1v3.1h-3.1zM372.3 108h3.1v3.1h-3.1zM380.5 89.5h3.1v3.1h-3.1zM392.9 179.8h3.1v3.1h-3.1zM395.1 82.3h3.1v3.1h-3.1zM368.4 75.8h3.1v3.1h-3.1zM366.3 97.4h3.1v3.1h-3.1zM371 90.3h3.1v3.1h-3.1zM395.8 99.1h3.1v3.1h-3.1zM376.9 87.8h3.1v3.1h-3.1z" fill="#56B4E9"/>
<path d="M331.9 107.5h3.1v3.1h-3.1zM343.5 103.3h3.1v3.1h-3.1zM362.6 80.1h3.1v3.1h-3.1zM355.2 154.4h3.1v3.1h-3.1zM375.5 90.8h3.1v3.1h-3.1zM289.7 100.1h3.1v3.1h-3.1zM349.3 110h3.1v3.1h-3.1z" fill="#009E73"/>
<path d="M345 63.2h3.1v3.1h-3.1zM323.3 47.7h3.1v3.1h-3.1zM332.7 40.3h3.1v3.1h-3.1zM334.9 73.9h3.1v3.1h-3.1zM386.5 75.4h3.1v3.1h-3.1zM363.4 138.4h3.1v3.1h-3.1zM361.9 97.1h3.1v3.1h-3.1zM333.6 61.7h3.1v3.1h-3.1zM347.3 24h3.1v3.1h-3.1zM355 70.4h3.1v3.1h-3.1zM361.3 90h3.1v3.1h-3.1zM360.8 117.7h3.1v3.1h-3.1zM377.5 66.7h3.1v3.1h-3.1z" fill="#F0E442"/>
<path d="M349.4 46.2h3.1v3.1h-3.1zM345.7 53.1h3.1v3.1h-3.1zM348.8 45.9h3.1v3.1h-3.1zM361.1 70.3h3.1v3.1h-3.1zM356.1 73.4h3.1v3.1h-3.1zM346.5 89.1h3.1v3.1h-3.1zM288.9 52.8h3.1v3.1h-3.1zM359.9 94.3h3.1v3.1h-3.1zM358.2 38.8h3.1v3.1h-3.1zM339.3 50h3.1v3.1h-3.1zM353.7 26.8h3.1v3.1h-3.1zM377.3 108.6h3.1v3.1h-3.1z" fill="#0072B2"/>
<path d="M338.9 141.3h3.1v3.1h-3.1zM385 87.2h3.1v3.1h-3.1zM410.1 101.8h3.1v3.1h-3.1zM396.9 93.9h3.1v3.1h-3.1zM408.8 162.5h3.1v3.1h-3.1zM408.3 124.5h3.1v3.1h-3.1zM308.9 176.9h3.1v3.1h-3.1zM359.8 186.4h3.1v3.1h-3.1zM389.8 100.2h3.1v3.1h-3.1zM363.6 105.9h3.1v3.1h-3.1zM392.3 73.3h3.1v3.1h-3.1zM373.2 105.7h3.1v3.1h-3.1zM384.2 135.8h3.1v3.1h-3.1zM365.9 72h3.1v3.1h-3.1z" fill="#999999"/>
<path d="M386.4 121.3h3.1v3.1h-3.1zM374.8 166.4h3.1v3.1h-3.1zM391.4 82.1h3.1v3.1h-3.1zM372.7 93.4h3.1v3.1h-3.1zM377.8 72.8h3.1v3.1h-3.1zM383.6 64.1h3.1v3.1h-3.1zM388.8 104.8h3.1v3.1h-3.1zM384.6 103.2h3.1v3.1h-3.1zM368.4 192.4h3.1v3.1h-3.1zM385.7 111.4h3.1v3.1h-3.1zM376.4 46.3h3.1v3.1h-3.1zM393.1 107.7h3.1v3.1h-3.1zM370.2 102.8h3.1v3.1h-3.1zM365.7 110.3h3.1v3.1h-3.1zM371.1 81.6h3.1v3.1h-3.1zM379.8 60.1h3.1v3.1h-3.1z" fill="#E69F00"/>
<path d="M366.9 77h3.1v3.1h-3.1zM351.1 102.1h3.1v3.1h-3.1zM364 114.2h3.1v3.1h-3.1zM388.1 66.8h3.1v3.1h-3.1zM368.7 50h3.1v3.1h-3.1zM353.7 100.1h3.1v3.1h-3.1zM364.6 78.1h3.1v3.1h-3.1zM382.5 76h3.1v3.1h-3.1z" fill="#56B4E9"/>
<path d="M367.1 68.7h3.1v3.1h-3.1zM346.4 24.3h3.1v3.1h-3.1zM364.4 97.9h3.1v3.1h-3.1zM332.8 67.5h3.1v3.1h-3.1zM359.8 53.7h3.1v3.1h-3.1zM354.8 73.2h3.1v3.1h-3.1z" fill="#009E73"/>
<path d="M360.4 94.8h3.1v3.1h-3.1zM334.2 48.5h3.1v3.1h-3.1zM353.2 89.9h3.1v3.1h-3.1zM348.8 70.9h3.1v3.1h-3.1zM375.2 61.3h3.1v3.1h-3.1zM365.5 89.9h3.1v3.1h-3.1zM345.4 53.7h3.1v3.1h-3.1zM369.2 119.9h3.1v3.1h-3.1zM365.6 89.1h3.1v3.1h-3.1zM362.8 66h3.1v3.1h-3.1zM338.2 65.8h3.1v3.1h-3.1z" fill="#F0E442"/>
<path d="M339.7 44.8h3.1v3.1h-3.1zM357 63h3.1v3.1h-3.1zM365.4 74.4h3.1v3.1h-3.1zM358.5 68.6h3.1v3.1h-3.1zM343.9 59.6h3.1v3.1h-3.1zM374.3 86.8h3.1v3.1h-3.1zM346.3 59.8h3.1v3.1h-3.1zM357 84.8h3.1v3.1h-3.1zM355.8 99h3.1v3.1h-3.1z" fill="#0072B2"/>
<path d="M335.2 137.2h3.1v3.1h-3.1zM368.1 91.1h3.1v3.1h-3.1zM398.6 66.2h3.1v3.1h-3.1zM375.8 157.6h3.1v3.1h-3.1zM379.5 73.5h3.1v3.1h-3.1zM355.8 132.3h3.1v3.1h-3.1zM379 123.5h3.1v3.1h-3.1zM391.1 233.5h3.1v3.1h-3.1zM383.8 172.8h3.1v3.1h-3.1z" fill="#999999"/>
<path d="M378.7 92.6h3.1v3.1h-3.1zM377.9 171.1h3.1v3.1h-3.1zM376.5 111.9h3.1v3.1h-3.1zM402.3 84.1h3.1v3.1h-3.1zM362.7 82.6h3.1v3.1h-3.1zM385.8 114.2h3.1v3.1h-3.1zM412.3 168.6h3.1v3.1h-3.1zM388.1 64.7h3.1v3.1h-3.1zM391.1 91.4h3.1v3.1h-3.1z" fill="#E69F00"/>
<path d="M364.4 104.6h3.1v3.1h-3.1zM389.9 89h3.1v3.1h-3.1zM373 86.9h3.1v3.1h-3.1zM349.4 96.2h3.1v3.1h-3.1zM298.5 47.2h3.1v3.1h-3.1zM340.4 18.8h3.1v3.1h-3.1zM362.1 110.3h3.1v3.1h-3.1zM365.7 119.9h3.1v3.1h-3.1zM350.3 116.2h3.1v3.1h-3.1zM284.5 70.7h3.1v3.1h-3.1zM371.5 72.5h3.1v3.1h-3.1zM364.7 105.1h3.1v3.1h-3.1zM356.6 110.9h3.1v3.1h-3.1zM348.3 121.2h3.1v3.1h-3.1zM371.6 95.2h3.1v3.1h-3.1zM383.1 103.1h3.1v3.1h-3.1z" fill="#56B4E9"/>
<path d="M367 52.4h3.1v3.1h-3.1zM376.8 138.5h3.1v3.1h-3.1zM371.2 78h3.1v3.1h-3.1zM341.5 100.6h3.1v3.1h-3.1zM365.7 94h3.1v3.1h-3.1zM358.5 91.3h3.1v3.1h-3.1zM341.7 75.2h3.1v3.1h-3.1zM358.1 45h3.1v3.1h-3.1zM366.2 52.4h3.1v3.1h-3.1zM280.7 55.3h3.1v3.1h-3.1zM377.6 44.1h3.1v3.1h-3.1zM381.7 44.2h3.1v3.1h-3.1zM395.2 114.1h3.1v3.1h-3.1z" fill="#009E73"/>
<path d="M341.9 83.4h3.1v3.1h-3.1zM344.8 34.1h3.1v3.1h-3.1zM334.4 79.9h3.1v3.1h-3.1zM287.8 61.6h3.1v3.1h-3.1zM368.4 70.9h3.1v3.1h-3.1zM367.2 58.7h3.1v3.1h-3.1zM371.7 79.1h3.1v3.1h-3.1z" fill="#F0E442"/>
<path d="M380.8 77.3h3.1v3.1h-3.1zM335.8 87.8h3.1v3.1h-3.1zM352.3 83.4h3.1v3.1h-3.1zM357.7 94.5h3.1v3.1h-3.1zM375.2 78.5h3.1v3.1h-3.1zM369.4 123.4h3.1v3.1h-3.1zM367.4 68.7h3.1v3.1h-3.1zM331.9 41.1h3.1v3.1h-3.1zM379.2 96.8h3.1v3.1h-3.1zM373.3 111.8h3.1v3.1h-3.1z" fill="#0072B2"/>
<path d="M424.3 71.6h3.1v3.1h-3.1zM402.7 105h3.1v3.1h-3.1zM416.8 178.4h3.1v3.1h-3.1zM367.5 46.6h3.1v3.1h-3.1zM374.8 79.2h3.1v3.1h-3.1zM419.2 117.5h3.1v3.1h-3.1zM408.4 91.6h3.1v3.1h-3.1zM405.7 87.2h3.1v3.1h-3.1zM381.7 113.2h3.1v3.1h-3.1zM402.3 121h3.1v3.1h-3.1zM409.6 112.3h3.1v3.1h-3.1z" fill="#999999"/>
<path d="M343.9 167.9h3.1v3.1h-3.1zM405.6 182.6h3.1v3.1h-3.1zM375.5 74h3.1v3.1h-3.1zM358.2 178.4h3.1v3.1h-3.1zM395.5 124.1h3.1v3.1h-3.1zM388.6 156.8h3.1v3.1h-3.1zM373.5 124.4h3.1v3.1h-3.1zM394.7 109.1h3.1v3.1h-3.1zM398.8 130.1h3.1v3.1h-3.1zM358.1 68.9h3.1v3.1h-3.1zM384.4 122.6h3.1v3.1h-3.1zM374.9 122.7h3.1v3.1h-3.1zM372.1 124.5h3.1v3.1h-3.1z" fill="#E69F00"/>
<path d="M375.9 87.7h3.1v3.1h-3.1zM370.1 179.1h3.1v3.1h-3.1zM352.6 71.6h3.1v3.1h-3.1zM371.6 59.9h3.1v3.1h-3.1zM389.2 122.5h3.1v3.1h-3.1zM373.9 142.2h3.1v3.1h-3.1zM375.2 112h3.1v3.1h-3.1zM373.9 90.2h3.1v3.1h-3.1z" fill="#56B4E9"/>
<path d="M344.9 94.6h3.1v3.1h-3.1zM364.7 95.9h3.1v3.1h-3.1zM364.9 85.5h3.1v3.1h-3.1zM368.8 80.3h3.1v3.1h-3.1zM365.3 108.3h3.1v3.1h-3.1zM374.9 104.3h3.1v3.1h-3.1zM370.3 111.2h3.1v3.1h-3.1zM352.3 86.1h3.1v3.1h-3.1zM346.6 56.8h3.1v3.1h-3.1zM346.6 77.1h3.1v3.1h-3.1zM356.8 117.5h3.1v3.1h-3.1z" fill="#009E73"/>
<path d="M339.9 96.8h3.1v3.1h-3.1zM353 98.8h3.1v3.1h-3.1zM354.4 68.1h3.1v3.1h-3.1zM356.4 88h3.1v3.1h-3.1zM339.5 81.6h3.1v3.1h-3.1zM348.2 65.4h3.1v3.1h-3.1zM374 48.7h3.1v3.1h-3.1zM378.7 70.8h3.1v3.1h-3.1zM349.4 83.6h3.1v3.1h-3.1z" fill="#F0E442"/>
<path d="M355 65.1h3.1v3.1h-3.1zM358.3 91h3.1v3.1h-3.1zM377 73.9h3.1v3.1h-3.1zM340.6 45h3.1v3.1h-3.1zM381.1 133.2h3.1v3.1h-3.1zM362.6 108.2h3.1v3.1h-3.1zM375.4 88.3h3.1v3.1h-3.1zM353.6 59.1h3.1v3.1h-3.1zM373.6 108.8h3.1v3.1h-3.1zM357.3 75.6h3.1v3.1h-3.1zM387.3 106.1h3.1v3.1h-3.1z" fill="#0072B2"/>
<line x1="371.6" y1="5.3" x2="371.6" y2="253" stroke="#000" stroke-width="3" stroke-dasharray="4.4 12.98"/>
<line x1="382.8" y1="5.3" x2="382.8" y2="253" stroke="#000" stroke-width="3" stroke-dasharray="4.4 12.98"/>
</g>
<g clip-path="url(#cC)">
<polygon points="507.6,108.5 510.5,107.2 513.3,106 516.2,104.9 519,103.9 521.9,102.9 524.8,102.1 527.6,101.3 530.5,100.5 533.3,99.9 536.2,99.3 539,98.8 541.9,98.4 544.7,98.1 547.6,97.8 550.4,97.6 553.3,97.5 556.1,97.5 559,97.5 561.8,97.6 564.7,97.7 567.6,98 570.4,98.2 573.3,98.5 576.1,98.8 579,99.1 581.8,99.4 584.7,99.5 587.5,99.6 590.4,99.5 593.2,99.4 596.1,99.3 598.9,99.1 601.8,99.1 604.6,99 607.5,99.1 610.4,99.2 613.2,99.3 616.1,99.6 618.9,99.9 621.8,100.3 624.6,100.7 627.5,101.3 630.3,101.9 633.2,102.6 636,103.3 638.9,104.2 641.7,105.1 644.6,106.1 647.4,107.2 650.3,108.3 653.2,109.5 656,110.9 658.9,112.2 661.7,113.7 664.6,115.2 667.4,116.9 670.3,118.6 673.1,120.3 676,122.2 676,170.8 673.1,167.5 670.3,164.2 667.4,161 664.6,157.9 661.7,154.9 658.9,151.9 656,149 653.2,146.2 650.3,143.5 647.4,140.9 644.6,138.3 641.7,135.8 638.9,133.4 636,131.1 633.2,128.9 630.3,126.7 627.5,124.6 624.6,122.6 621.8,120.7 618.9,118.9 616.1,117.1 613.2,115.5 610.4,113.9 607.5,112.4 604.6,111 601.8,109.7 598.9,108.5 596.1,107.5 593.2,106.5 590.4,105.8 587.5,105.2 584.7,104.9 581.8,104.9 579,105.2 576.1,105.6 573.3,106.2 570.4,107 567.6,107.9 564.7,108.8 561.8,109.9 559,111.1 556.1,112.4 553.3,113.8 550.4,115.2 547.6,116.7 544.7,118.3 541.9,120 539,121.8 536.2,123.7 533.3,125.6 530.5,127.6 527.6,129.7 524.8,131.9 521.9,134.2 519,136.5 516.2,139 513.3,141.5 510.5,144 507.6,146.7" fill="#999999" fill-opacity="0.12"/>
<polygon points="507.6,97.9 510.5,97 513.3,96.2 516.2,95.5 519,94.9 521.9,94.3 524.8,93.7 527.6,93.2 530.5,92.8 533.3,92.4 536.2,92.1 539,91.9 541.9,91.7 544.7,91.5 547.6,91.5 550.4,91.4 553.3,91.5 556.1,91.5 559,91.7 561.8,91.9 564.7,92.1 567.6,92.4 570.4,92.7 573.3,93 576.1,93.3 579,93.7 581.8,94 584.7,94.2 587.5,94.3 590.4,94.3 593.2,94.3 596.1,94.2 598.9,94.2 601.8,94.2 604.6,94.2 607.5,94.3 610.4,94.4 613.2,94.6 616.1,94.8 618.9,95.1 621.8,95.4 624.6,95.8 627.5,96.3 630.3,96.8 633.2,97.4 636,98 638.9,98.7 641.7,99.4 644.6,100.2 647.4,101.1 650.3,102 653.2,102.9 656,104 658.9,105.1 661.7,106.2 664.6,107.4 667.4,108.7 670.3,110 673.1,111.4 676,112.8 676,151.8 673.1,149.1 670.3,146.5 667.4,144 664.6,141.5 661.7,139.1 658.9,136.8 656,134.5 653.2,132.3 650.3,130.1 647.4,128 644.6,126 641.7,124 638.9,122.1 636,120.2 633.2,118.4 630.3,116.7 627.5,115 624.6,113.4 621.8,111.8 618.9,110.3 616.1,108.9 613.2,107.5 610.4,106.2 607.5,105 604.6,103.8 601.8,102.7 598.9,101.7 596.1,100.8 593.2,100 590.4,99.3 587.5,98.8 584.7,98.5 581.8,98.4 579,98.5 576.1,98.8 573.3,99.2 570.4,99.7 567.6,100.3 564.7,101 561.8,101.7 559,102.6 556.1,103.5 553.3,104.5 550.4,105.5 547.6,106.6 544.7,107.8 541.9,109 539,110.3 536.2,111.6 533.3,113 530.5,114.5 527.6,116 524.8,117.6 521.9,119.3 519,121 516.2,122.7 513.3,124.6 510.5,126.5 507.6,128.4" fill="#E69F00" fill-opacity="0.12"/>
<polygon points="507.6,86.1 510.5,85.7 513.3,85.4 516.2,85.1 519,84.9 521.9,84.6 524.8,84.5 527.6,84.4 530.5,84.3 533.3,84.2 536.2,84.2 539,84.2 541.9,84.3 544.7,84.4 547.6,84.5 550.4,84.7 553.3,84.9 556.1,85.2 559,85.5 561.8,85.8 564.7,86.1 567.6,86.5 570.4,86.9 573.3,87.3 576.1,87.7 579,88 581.8,88.4 584.7,88.6 587.5,88.8 590.4,88.9 593.2,88.9 596.1,88.9 598.9,88.9 601.8,89 604.6,89 607.5,89.1 610.4,89.2 613.2,89.4 616.1,89.5 618.9,89.7 621.8,90 624.6,90.3 627.5,90.6 630.3,91 633.2,91.4 636,91.8 638.9,92.3 641.7,92.8 644.6,93.3 647.4,93.9 650.3,94.6 653.2,95.2 656,95.9 658.9,96.7 661.7,97.5 664.6,98.3 667.4,99.2 670.3,100.1 673.1,101 676,102 676,134.1 673.1,132.1 670.3,130.2 667.4,128.3 664.6,126.5 661.7,124.7 658.9,122.9 656,121.1 653.2,119.5 650.3,117.8 647.4,116.2 644.6,114.6 641.7,113.1 638.9,111.6 636,110.1 633.2,108.7 630.3,107.4 627.5,106 624.6,104.7 621.8,103.5 618.9,102.3 616.1,101.1 613.2,100 610.4,98.9 607.5,97.9 604.6,96.9 601.8,96 598.9,95.1 596.1,94.3 593.2,93.6 590.4,93 587.5,92.5 584.7,92.2 581.8,92 579,92 576.1,92.1 573.3,92.3 570.4,92.6 567.6,93 564.7,93.4 561.8,93.9 559,94.4 556.1,95 553.3,95.6 550.4,96.3 547.6,97 544.7,97.8 541.9,98.6 539,99.4 536.2,100.3 533.3,101.2 530.5,102.1 527.6,103.1 524.8,104.2 521.9,105.3 519,106.4 516.2,107.6 513.3,108.8 510.5,110 507.6,111.3" fill="#56B4E9" fill-opacity="0.12"/>
<polygon points="507.6,71.6 510.5,71.8 513.3,72 516.2,72.3 519,72.6 521.9,72.8 524.8,73.1 527.6,73.5 530.5,73.8 533.3,74.2 536.2,74.6 539,75 541.9,75.4 544.7,75.8 547.6,76.3 550.4,76.8 553.3,77.2 556.1,77.7 559,78.3 561.8,78.8 564.7,79.3 567.6,79.9 570.4,80.4 573.3,81 576.1,81.5 579,82 581.8,82.4 584.7,82.7 587.5,82.9 590.4,83 593.2,83.1 596.1,83.1 598.9,83 601.8,83 604.6,83 607.5,83 610.4,83 613.2,83 616.1,83 618.9,83.1 621.8,83.1 624.6,83.2 627.5,83.3 630.3,83.4 633.2,83.5 636,83.7 638.9,83.8 641.7,84 644.6,84.2 647.4,84.4 650.3,84.7 653.2,85 656,85.2 658.9,85.5 661.7,85.9 664.6,86.2 667.4,86.6 670.3,87 673.1,87.4 676,87.8 676,119.9 673.1,118.5 670.3,117.1 667.4,115.7 664.6,114.4 661.7,113 658.9,111.7 656,110.4 653.2,109.2 650.3,107.9 647.4,106.7 644.6,105.5 641.7,104.3 638.9,103.1 636,102 633.2,100.9 630.3,99.8 627.5,98.7 624.6,97.6 621.8,96.6 618.9,95.6 616.1,94.6 613.2,93.6 610.4,92.7 607.5,91.8 604.6,90.9 601.8,90.1 598.9,89.3 596.1,88.5 593.2,87.8 590.4,87.2 587.5,86.6 584.7,86.3 581.8,86 579,86 576.1,86 573.3,86.1 570.4,86.2 567.6,86.4 564.7,86.7 561.8,86.9 559,87.3 556.1,87.6 553.3,88 550.4,88.3 547.6,88.8 544.7,89.2 541.9,89.7 539,90.1 536.2,90.6 533.3,91.2 530.5,91.7 527.6,92.3 524.8,92.9 521.9,93.5 519,94.1 516.2,94.7 513.3,95.4 510.5,96.1 507.6,96.8" fill="#009E73" fill-opacity="0.12"/>
<polygon points="507.6,54.5 510.5,55.3 513.3,56.2 516.2,57.1 519,58 521.9,58.9 524.8,59.7 527.6,60.6 530.5,61.5 533.3,62.4 536.2,63.2 539,64.1 541.9,65 544.7,65.8 547.6,66.7 550.4,67.6 553.3,68.4 556.1,69.3 559,70.1 561.8,71 564.7,71.8 567.6,72.6 570.4,73.4 573.3,74.2 576.1,74.9 579,75.5 581.8,76 584.7,76.4 587.5,76.6 590.4,76.7 593.2,76.7 596.1,76.6 598.9,76.5 601.8,76.3 604.6,76.1 607.5,75.9 610.4,75.7 613.2,75.5 616.1,75.3 618.9,75 621.8,74.8 624.6,74.6 627.5,74.3 630.3,74.1 633.2,73.8 636,73.6 638.9,73.3 641.7,73.1 644.6,72.9 647.4,72.6 650.3,72.4 653.2,72.1 656,71.9 658.9,71.6 661.7,71.4 664.6,71.1 667.4,70.9 670.3,70.6 673.1,70.4 676,70.2 676,109.1 673.1,108.1 670.3,107.2 667.4,106.2 664.6,105.3 661.7,104.3 658.9,103.4 656,102.4 653.2,101.5 650.3,100.5 647.4,99.6 644.6,98.6 641.7,97.7 638.9,96.8 636,95.8 633.2,94.9 630.3,94 627.5,93 624.6,92.1 621.8,91.2 618.9,90.2 616.1,89.3 613.2,88.4 610.4,87.5 607.5,86.6 604.6,85.7 601.8,84.9 598.9,84 596.1,83.2 593.2,82.4 590.4,81.8 587.5,81.2 584.7,80.7 581.8,80.5 579,80.3 576.1,80.3 573.3,80.3 570.4,80.4 567.6,80.5 564.7,80.7 561.8,80.8 559,81 556.1,81.2 553.3,81.4 550.4,81.6 547.6,81.8 544.7,82 541.9,82.3 539,82.5 536.2,82.7 533.3,82.9 530.5,83.2 527.6,83.4 524.8,83.6 521.9,83.8 519,84.1 516.2,84.3 513.3,84.5 510.5,84.8 507.6,85" fill="#F0E442" fill-opacity="0.12"/>
<polygon points="507.6,36.2 510.5,37.8 513.3,39.3 516.2,40.9 519,42.4 521.9,43.9 524.8,45.4 527.6,46.9 530.5,48.3 533.3,49.7 536.2,51.2 539,52.5 541.9,53.9 544.7,55.2 547.6,56.6 550.4,57.9 553.3,59.1 556.1,60.4 559,61.6 561.8,62.8 564.7,63.9 567.6,65 570.4,66.1 573.3,67.1 576.1,68 579,68.8 581.8,69.5 584.7,70 587.5,70.2 590.4,70.3 593.2,70.2 596.1,70 598.9,69.7 601.8,69.3 604.6,68.9 607.5,68.5 610.4,68 613.2,67.5 616.1,67 618.9,66.4 621.8,65.9 624.6,65.3 627.5,64.7 630.3,64 633.2,63.4 636,62.7 638.9,62 641.7,61.3 644.6,60.5 647.4,59.8 650.3,59 653.2,58.2 656,57.4 658.9,56.5 661.7,55.7 664.6,54.8 667.4,53.9 670.3,53 673.1,52 676,51.1 676,99.7 673.1,99.2 670.3,98.6 667.4,98 664.6,97.4 661.7,96.8 658.9,96.2 656,95.5 653.2,94.9 650.3,94.2 647.4,93.5 644.6,92.8 641.7,92 638.9,91.2 636,90.5 633.2,89.7 630.3,88.9 627.5,88 624.6,87.2 621.8,86.3 618.9,85.5 616.1,84.6 613.2,83.7 610.4,82.8 607.5,81.8 604.6,80.9 601.8,80 598.9,79.1 596.1,78.2 593.2,77.3 590.4,76.5 587.5,75.9 584.7,75.4 581.8,75 579,74.9 576.1,74.8 573.3,74.8 570.4,74.9 567.6,74.9 564.7,75 561.8,75.1 559,75.2 556.1,75.3 553.3,75.4 550.4,75.4 547.6,75.5 544.7,75.5 541.9,75.5 539,75.5 536.2,75.5 533.3,75.5 530.5,75.4 527.6,75.4 524.8,75.3 521.9,75.2 519,75 516.2,74.9 513.3,74.7 510.5,74.6 507.6,74.4" fill="#0072B2" fill-opacity="0.12"/>
<polyline points="507.6,127.6 510.5,125.6 513.3,123.8 516.2,121.9 519,120.2 521.9,118.6 524.8,117 527.6,115.5 530.5,114.1 533.3,112.8 536.2,111.5 539,110.3 541.9,109.2 544.7,108.2 547.6,107.3 550.4,106.4 553.3,105.6 556.1,104.9 559,104.3 561.8,103.8 564.7,103.3 567.6,102.9 570.4,102.6 573.3,102.4 576.1,102.2 579,102.1 581.8,102.1 584.7,102.2 587.5,102.4 590.4,102.6 593.2,103 596.1,103.4 598.9,103.8 601.8,104.4 604.6,105 607.5,105.7 610.4,106.5 613.2,107.4 616.1,108.4 618.9,109.4 621.8,110.5 624.6,111.7 627.5,113 630.3,114.3 633.2,115.7 636,117.2 638.9,118.8 641.7,120.5 644.6,122.2 647.4,124 650.3,125.9 653.2,127.9 656,129.9 658.9,132.1 661.7,134.3 664.6,136.6 667.4,138.9 670.3,141.4 673.1,143.9 676,146.5" fill="none" stroke="#999999" stroke-width="2.9" stroke-linejoin="round"/>
<polyline points="507.6,113.1 510.5,111.7 513.3,110.4 516.2,109.1 519,107.9 521.9,106.8 524.8,105.7 527.6,104.6 530.5,103.7 533.3,102.7 536.2,101.9 539,101.1 541.9,100.3 544.7,99.6 547.6,99 550.4,98.5 553.3,98 556.1,97.5 559,97.1 561.8,96.8 564.7,96.5 567.6,96.3 570.4,96.2 573.3,96.1 576.1,96.1 579,96.1 581.8,96.2 584.7,96.3 587.5,96.5 590.4,96.8 593.2,97.1 596.1,97.5 598.9,97.9 601.8,98.4 604.6,99 607.5,99.6 610.4,100.3 613.2,101 616.1,101.8 618.9,102.7 621.8,103.6 624.6,104.6 627.5,105.6 630.3,106.7 633.2,107.9 636,109.1 638.9,110.4 641.7,111.7 644.6,113.1 647.4,114.5 650.3,116 653.2,117.6 656,119.2 658.9,120.9 661.7,122.7 664.6,124.5 667.4,126.3 670.3,128.3 673.1,130.3 676,132.3" fill="none" stroke="#E69F00" stroke-width="2.9" stroke-linejoin="round"/>
<polyline points="507.6,98.7 510.5,97.9 513.3,97.1 516.2,96.3 519,95.6 521.9,95 524.8,94.3 527.6,93.8 530.5,93.2 533.3,92.7 536.2,92.2 539,91.8 541.9,91.4 544.7,91.1 547.6,90.8 550.4,90.5 553.3,90.3 556.1,90.1 559,89.9 561.8,89.8 564.7,89.8 567.6,89.7 570.4,89.8 573.3,89.8 576.1,89.9 579,90 581.8,90.2 584.7,90.4 587.5,90.7 590.4,90.9 593.2,91.3 596.1,91.6 598.9,92 601.8,92.5 604.6,93 607.5,93.5 610.4,94.1 613.2,94.7 616.1,95.3 618.9,96 621.8,96.7 624.6,97.5 627.5,98.3 630.3,99.2 633.2,100 636,101 638.9,101.9 641.7,102.9 644.6,104 647.4,105.1 650.3,106.2 653.2,107.3 656,108.5 658.9,109.8 661.7,111.1 664.6,112.4 667.4,113.7 670.3,115.1 673.1,116.6 676,118.1" fill="none" stroke="#56B4E9" stroke-width="2.9" stroke-linejoin="round"/>
<polyline points="507.6,84.2 510.5,84 513.3,83.7 516.2,83.5 519,83.3 521.9,83.2 524.8,83 527.6,82.9 530.5,82.8 533.3,82.7 536.2,82.6 539,82.6 541.9,82.5 544.7,82.5 547.6,82.5 550.4,82.6 553.3,82.6 556.1,82.7 559,82.8 561.8,82.9 564.7,83 567.6,83.2 570.4,83.3 573.3,83.5 576.1,83.7 579,84 581.8,84.2 584.7,84.5 587.5,84.8 590.4,85.1 593.2,85.4 596.1,85.8 598.9,86.2 601.8,86.5 604.6,87 607.5,87.4 610.4,87.8 613.2,88.3 616.1,88.8 618.9,89.3 621.8,89.9 624.6,90.4 627.5,91 630.3,91.6 633.2,92.2 636,92.8 638.9,93.5 641.7,94.2 644.6,94.9 647.4,95.6 650.3,96.3 653.2,97.1 656,97.8 658.9,98.6 661.7,99.5 664.6,100.3 667.4,101.2 670.3,102 673.1,102.9 676,103.8" fill="none" stroke="#009E73" stroke-width="2.9" stroke-linejoin="round"/>
<polyline points="507.6,69.7 510.5,70.1 513.3,70.4 516.2,70.7 519,71 521.9,71.3 524.8,71.7 527.6,72 530.5,72.3 533.3,72.6 536.2,73 539,73.3 541.9,73.6 544.7,73.9 547.6,74.3 550.4,74.6 553.3,74.9 556.1,75.3 559,75.6 561.8,75.9 564.7,76.2 567.6,76.6 570.4,76.9 573.3,77.2 576.1,77.6 579,77.9 581.8,78.2 584.7,78.6 587.5,78.9 590.4,79.2 593.2,79.6 596.1,79.9 598.9,80.3 601.8,80.6 604.6,80.9 607.5,81.3 610.4,81.6 613.2,82 616.1,82.3 618.9,82.6 621.8,83 624.6,83.3 627.5,83.7 630.3,84 633.2,84.4 636,84.7 638.9,85.1 641.7,85.4 644.6,85.7 647.4,86.1 650.3,86.4 653.2,86.8 656,87.1 658.9,87.5 661.7,87.8 664.6,88.2 667.4,88.6 670.3,88.9 673.1,89.3 676,89.6" fill="none" stroke="#F0E442" stroke-width="2.9" stroke-linejoin="round"/>
<polyline points="507.6,55.3 510.5,56.2 513.3,57 516.2,57.9 519,58.7 521.9,59.5 524.8,60.3 527.6,61.1 530.5,61.9 533.3,62.6 536.2,63.3 539,64 541.9,64.7 544.7,65.4 547.6,66 550.4,66.6 553.3,67.2 556.1,67.8 559,68.4 561.8,68.9 564.7,69.5 567.6,70 570.4,70.5 573.3,71 576.1,71.4 579,71.8 581.8,72.3 584.7,72.7 587.5,73 590.4,73.4 593.2,73.7 596.1,74.1 598.9,74.4 601.8,74.6 604.6,74.9 607.5,75.2 610.4,75.4 613.2,75.6 616.1,75.8 618.9,76 621.8,76.1 624.6,76.2 627.5,76.3 630.3,76.4 633.2,76.5 636,76.6 638.9,76.6 641.7,76.6 644.6,76.6 647.4,76.6 650.3,76.6 653.2,76.5 656,76.4 658.9,76.4 661.7,76.2 664.6,76.1 667.4,76 670.3,75.8 673.1,75.6 676,75.4" fill="none" stroke="#0072B2" stroke-width="2.9" stroke-linejoin="round"/>
<path d="M508.5 104.9h3.1v3.1h-3.1zM668.6 185.4h3.1v3.1h-3.1zM612.9 96.5h3.1v3.1h-3.1zM610 120.5h3.1v3.1h-3.1zM582.5 101.8h3.1v3.1h-3.1zM610.4 72.3h3.1v3.1h-3.1zM578.5 49.2h3.1v3.1h-3.1zM586.9 77.9h3.1v3.1h-3.1zM569.2 104.5h3.1v3.1h-3.1zM582.9 46.5h3.1v3.1h-3.1zM578.4 63.2h3.1v3.1h-3.1zM586.9 116.4h3.1v3.1h-3.1zM610 107.4h3.1v3.1h-3.1zM586.7 61.7h3.1v3.1h-3.1zM599.9 103.4h3.1v3.1h-3.1z" fill="#999999"/>
<path d="M582.7 91.8h3.1v3.1h-3.1zM578.5 92.2h3.1v3.1h-3.1zM508.4 175.4h3.1v3.1h-3.1zM599.8 60.6h3.1v3.1h-3.1zM578.8 41.1h3.1v3.1h-3.1zM582.4 113.9h3.1v3.1h-3.1zM583.1 124.9h3.1v3.1h-3.1zM628.9 180.8h3.1v3.1h-3.1zM508.5 102.9h3.1v3.1h-3.1zM514.1 105.6h3.1v3.1h-3.1zM578.8 97h3.1v3.1h-3.1zM578.9 133.3h3.1v3.1h-3.1zM569.2 104.2h3.1v3.1h-3.1z" fill="#E69F00"/>
<path d="M588.2 176.2h3.1v3.1h-3.1zM582.9 48.4h3.1v3.1h-3.1zM578.8 61.8h3.1v3.1h-3.1zM508.9 69h3.1v3.1h-3.1zM599.9 71.2h3.1v3.1h-3.1zM508.9 110h3.1v3.1h-3.1zM587 122.7h3.1v3.1h-3.1zM576.6 93.4h3.1v3.1h-3.1zM508.4 146.4h3.1v3.1h-3.1zM582.9 76h3.1v3.1h-3.1zM578.8 102.3h3.1v3.1h-3.1zM586.6 87.4h3.1v3.1h-3.1zM578.7 95.7h3.1v3.1h-3.1z" fill="#56B4E9"/>
<path d="M568.7 96.6h3.1v3.1h-3.1zM568.8 102.8h3.1v3.1h-3.1zM578.6 60.3h3.1v3.1h-3.1zM612.5 88.1h3.1v3.1h-3.1zM668.6 94.4h3.1v3.1h-3.1zM582.8 45.1h3.1v3.1h-3.1zM586.7 100.1h3.1v3.1h-3.1zM599.8 54h3.1v3.1h-3.1zM610.1 56h3.1v3.1h-3.1zM576.3 99.6h3.1v3.1h-3.1z" fill="#009E73"/>
<path d="M593.8 146h3.1v3.1h-3.1zM612.7 75.1h3.1v3.1h-3.1zM569 89.5h3.1v3.1h-3.1zM576.2 101.7h3.1v3.1h-3.1zM586.8 104.6h3.1v3.1h-3.1zM576.5 67.4h3.1v3.1h-3.1zM578.5 53.6h3.1v3.1h-3.1zM599.6 70.8h3.1v3.1h-3.1zM586.6 120.5h3.1v3.1h-3.1zM514 43.8h3.1v3.1h-3.1zM612.8 107.7h3.1v3.1h-3.1zM568.9 92.4h3.1v3.1h-3.1zM578.8 83.7h3.1v3.1h-3.1zM599.6 65.6h3.1v3.1h-3.1zM610.3 65h3.1v3.1h-3.1zM578.5 121.9h3.1v3.1h-3.1zM582.7 75h3.1v3.1h-3.1z" fill="#F0E442"/>
<path d="M576.2 39h3.1v3.1h-3.1zM582.7 29h3.1v3.1h-3.1zM586.9 51h3.1v3.1h-3.1zM578.8 96.4h3.1v3.1h-3.1zM628.9 136.8h3.1v3.1h-3.1zM586.6 39.1h3.1v3.1h-3.1zM582.4 102.4h3.1v3.1h-3.1zM576.3 80.5h3.1v3.1h-3.1zM610.2 62.8h3.1v3.1h-3.1z" fill="#0072B2"/>
<path d="M578.5 99.2h3.1v3.1h-3.1zM569.2 108.3h3.1v3.1h-3.1zM582.5 109.2h3.1v3.1h-3.1zM576 163.8h3.1v3.1h-3.1zM586.5 87h3.1v3.1h-3.1zM594.2 95.6h3.1v3.1h-3.1zM612.8 165.8h3.1v3.1h-3.1zM578.7 96.1h3.1v3.1h-3.1zM594.3 107.7h3.1v3.1h-3.1zM599.9 102.8h3.1v3.1h-3.1zM569 128.6h3.1v3.1h-3.1zM586.7 97.8h3.1v3.1h-3.1zM578.9 177.1h3.1v3.1h-3.1zM568.9 86h3.1v3.1h-3.1zM586.9 74.7h3.1v3.1h-3.1z" fill="#999999"/>
<path d="M576.6 116.3h3.1v3.1h-3.1zM582.8 90.8h3.1v3.1h-3.1zM612.5 88.1h3.1v3.1h-3.1zM594.2 112.4h3.1v3.1h-3.1zM569 99.5h3.1v3.1h-3.1zM599.5 122.2h3.1v3.1h-3.1zM509 113.2h3.1v3.1h-3.1z" fill="#E69F00"/>
<path d="M576.4 68.2h3.1v3.1h-3.1zM582.7 69h3.1v3.1h-3.1zM612.7 121.9h3.1v3.1h-3.1zM578.5 91h3.1v3.1h-3.1zM610.2 103h3.1v3.1h-3.1zM576.6 72.1h3.1v3.1h-3.1zM610.5 103.2h3.1v3.1h-3.1zM587 103.1h3.1v3.1h-3.1zM668.6 116.2h3.1v3.1h-3.1zM576.7 100.9h3.1v3.1h-3.1zM508.9 81h3.1v3.1h-3.1zM585.4 196.3h3.1v3.1h-3.1zM510.8 30.7h3.1v3.1h-3.1zM578.6 103.5h3.1v3.1h-3.1zM612.6 106.8h3.1v3.1h-3.1z" fill="#56B4E9"/>
<path d="M508.6 109.4h3.1v3.1h-3.1zM578.8 69.5h3.1v3.1h-3.1zM578.5 49.6h3.1v3.1h-3.1zM586.6 114.1h3.1v3.1h-3.1zM612.8 83.7h3.1v3.1h-3.1zM578.6 96.4h3.1v3.1h-3.1zM578.8 39.3h3.1v3.1h-3.1zM668.6 87.2h3.1v3.1h-3.1zM586.7 75.6h3.1v3.1h-3.1zM589.2 112.1h3.1v3.1h-3.1zM612.6 85.4h3.1v3.1h-3.1zM599.9 107.8h3.1v3.1h-3.1zM612.8 96.8h3.1v3.1h-3.1zM569.2 83.5h3.1v3.1h-3.1zM582.4 102.2h3.1v3.1h-3.1zM578.5 99.6h3.1v3.1h-3.1z" fill="#009E73"/>
<path d="M576.5 82.5h3.1v3.1h-3.1zM612.9 68.3h3.1v3.1h-3.1zM582.4 59.5h3.1v3.1h-3.1zM587 84.5h3.1v3.1h-3.1zM508.5 73.9h3.1v3.1h-3.1zM582.4 48.8h3.1v3.1h-3.1zM509.1 35h3.1v3.1h-3.1zM668.6 116.5h3.1v3.1h-3.1zM594.2 99h3.1v3.1h-3.1z" fill="#F0E442"/>
<path d="M578.9 80.3h3.1v3.1h-3.1zM587 80.3h3.1v3.1h-3.1zM578.8 72.8h3.1v3.1h-3.1zM589.2 108.4h3.1v3.1h-3.1zM509.1 43.5h3.1v3.1h-3.1zM610.1 95.1h3.1v3.1h-3.1zM578.4 70.7h3.1v3.1h-3.1zM508.5 70.1h3.1v3.1h-3.1zM582.6 67.5h3.1v3.1h-3.1zM582.9 102.9h3.1v3.1h-3.1zM586.5 46.9h3.1v3.1h-3.1zM599.6 88.8h3.1v3.1h-3.1zM578.6 56.8h3.1v3.1h-3.1zM582.8 113.4h3.1v3.1h-3.1zM599.6 47.2h3.1v3.1h-3.1z" fill="#0072B2"/>
<path d="M578.8 98.1h3.1v3.1h-3.1zM578.9 157.9h3.1v3.1h-3.1zM582.7 90.3h3.1v3.1h-3.1zM514.2 110.4h3.1v3.1h-3.1zM576.7 71.9h3.1v3.1h-3.1zM578.5 114.1h3.1v3.1h-3.1zM610.5 117.6h3.1v3.1h-3.1zM584.5 127.6h3.1v3.1h-3.1zM610 109.6h3.1v3.1h-3.1zM594.2 112.6h3.1v3.1h-3.1zM582.6 114.4h3.1v3.1h-3.1z" fill="#999999"/>
<path d="M576.4 65h3.1v3.1h-3.1zM600 68h3.1v3.1h-3.1zM582.8 80.4h3.1v3.1h-3.1zM612.8 157.3h3.1v3.1h-3.1zM612.5 82.5h3.1v3.1h-3.1zM578.9 85.3h3.1v3.1h-3.1zM610.2 99.1h3.1v3.1h-3.1zM584.5 173.8h3.1v3.1h-3.1zM576.2 91.1h3.1v3.1h-3.1zM576.3 98.9h3.1v3.1h-3.1zM593.8 125.8h3.1v3.1h-3.1zM568.8 67.2h3.1v3.1h-3.1zM586.7 118h3.1v3.1h-3.1z" fill="#E69F00"/>
<path d="M578.5 73.3h3.1v3.1h-3.1zM582.8 69.2h3.1v3.1h-3.1zM582.9 106.9h3.1v3.1h-3.1zM569.1 75.6h3.1v3.1h-3.1zM569.2 96.7h3.1v3.1h-3.1zM582.9 60.5h3.1v3.1h-3.1zM508.5 100.8h3.1v3.1h-3.1zM582.6 114.2h3.1v3.1h-3.1zM582.4 117.8h3.1v3.1h-3.1zM585.9 155h3.1v3.1h-3.1zM582.5 111.2h3.1v3.1h-3.1zM612.5 92h3.1v3.1h-3.1zM586.8 46.8h3.1v3.1h-3.1z" fill="#56B4E9"/>
<path d="M578.8 114.8h3.1v3.1h-3.1zM582.6 104.2h3.1v3.1h-3.1zM610.1 56h3.1v3.1h-3.1zM509.1 45.7h3.1v3.1h-3.1zM582.9 56.4h3.1v3.1h-3.1zM600 140.4h3.1v3.1h-3.1zM576.3 73h3.1v3.1h-3.1z" fill="#009E73"/>
<path d="M582.5 95.7h3.1v3.1h-3.1zM599.8 112.7h3.1v3.1h-3.1zM610.2 79.2h3.1v3.1h-3.1zM578.7 91.5h3.1v3.1h-3.1zM582.8 94.5h3.1v3.1h-3.1zM593.8 142.2h3.1v3.1h-3.1zM587 82.4h3.1v3.1h-3.1zM578.6 85.2h3.1v3.1h-3.1zM576.2 100.6h3.1v3.1h-3.1zM582.4 38.1h3.1v3.1h-3.1zM578.6 64.1h3.1v3.1h-3.1zM599.9 61.1h3.1v3.1h-3.1zM599.5 60.8h3.1v3.1h-3.1zM582.5 100.5h3.1v3.1h-3.1zM593.8 129h3.1v3.1h-3.1zM582.7 124.1h3.1v3.1h-3.1zM578.5 88.8h3.1v3.1h-3.1zM578.9 101.1h3.1v3.1h-3.1zM612.7 117.2h3.1v3.1h-3.1zM610.3 59.8h3.1v3.1h-3.1zM582.9 39h3.1v3.1h-3.1zM586.9 79.2h3.1v3.1h-3.1zM578.6 102.1h3.1v3.1h-3.1zM578.5 78.5h3.1v3.1h-3.1z" fill="#F0E442"/>
<path d="M576.7 36.9h3.1v3.1h-3.1zM599.7 48.5h3.1v3.1h-3.1zM582.7 74.1h3.1v3.1h-3.1zM588.7 99h3.1v3.1h-3.1zM668.6 52.2h3.1v3.1h-3.1zM578.8 28.2h3.1v3.1h-3.1zM582.6 72.7h3.1v3.1h-3.1zM513.5 45.5h3.1v3.1h-3.1zM612.6 58.1h3.1v3.1h-3.1z" fill="#0072B2"/>
<path d="M578.6 58.8h3.1v3.1h-3.1zM587 94.5h3.1v3.1h-3.1zM578.5 237.4h3.1v3.1h-3.1zM612.8 110.8h3.1v3.1h-3.1zM612.6 99h3.1v3.1h-3.1zM578.9 37.8h3.1v3.1h-3.1zM508.8 110h3.1v3.1h-3.1zM668.6 153.2h3.1v3.1h-3.1zM600 85.6h3.1v3.1h-3.1zM612.7 106.9h3.1v3.1h-3.1zM582.9 107.9h3.1v3.1h-3.1zM582.8 100.4h3.1v3.1h-3.1zM593.8 157.9h3.1v3.1h-3.1z" fill="#999999"/>
<path d="M593.9 113.9h3.1v3.1h-3.1zM578.9 162.9h3.1v3.1h-3.1zM582.9 75.7h3.1v3.1h-3.1zM587 71.3h3.1v3.1h-3.1zM508.8 92.9h3.1v3.1h-3.1zM578.5 122.8h3.1v3.1h-3.1zM576.6 88.6h3.1v3.1h-3.1zM586.5 87.1h3.1v3.1h-3.1zM578.7 85.3h3.1v3.1h-3.1zM576.4 100h3.1v3.1h-3.1zM586.9 108.4h3.1v3.1h-3.1zM584.5 153.9h3.1v3.1h-3.1zM576.2 97.3h3.1v3.1h-3.1zM569 138.9h3.1v3.1h-3.1z" fill="#E69F00"/>
<path d="M578.7 111.8h3.1v3.1h-3.1zM599.7 63.3h3.1v3.1h-3.1zM582.5 17.6h3.1v3.1h-3.1zM578.6 92.4h3.1v3.1h-3.1zM508.7 71.4h3.1v3.1h-3.1zM612.5 76.1h3.1v3.1h-3.1zM569.1 117.8h3.1v3.1h-3.1z" fill="#56B4E9"/>
<path d="M586.8 56.4h3.1v3.1h-3.1zM594.2 86.8h3.1v3.1h-3.1zM568.7 102h3.1v3.1h-3.1zM578.6 108.9h3.1v3.1h-3.1zM586.6 71h3.1v3.1h-3.1zM599.6 86.8h3.1v3.1h-3.1zM586.8 98.8h3.1v3.1h-3.1zM586.6 69.5h3.1v3.1h-3.1zM508.6 102.8h3.1v3.1h-3.1zM582.6 97.9h3.1v3.1h-3.1zM578.4 89.9h3.1v3.1h-3.1zM582.5 98.6h3.1v3.1h-3.1zM508.1 51.2h3.1v3.1h-3.1zM508.9 81.4h3.1v3.1h-3.1z" fill="#009E73"/>
<path d="M576.5 74.9h3.1v3.1h-3.1zM582.8 79.5h3.1v3.1h-3.1zM612.6 68.5h3.1v3.1h-3.1zM610.4 78.6h3.1v3.1h-3.1zM578.5 80.4h3.1v3.1h-3.1zM578.8 101.9h3.1v3.1h-3.1zM578.9 68.6h3.1v3.1h-3.1zM508.7 90.1h3.1v3.1h-3.1zM610.4 91h3.1v3.1h-3.1zM508.9 90.4h3.1v3.1h-3.1zM576.7 72h3.1v3.1h-3.1zM599.9 95.8h3.1v3.1h-3.1zM582.5 101.3h3.1v3.1h-3.1zM582.8 91.7h3.1v3.1h-3.1zM508.9 74.6h3.1v3.1h-3.1zM610.2 94.3h3.1v3.1h-3.1zM576.3 86.9h3.1v3.1h-3.1z" fill="#F0E442"/>
<path d="M582.8 62.3h3.1v3.1h-3.1zM576.5 68.8h3.1v3.1h-3.1zM569 70.5h3.1v3.1h-3.1zM582.4 93.2h3.1v3.1h-3.1zM610.4 88.1h3.1v3.1h-3.1zM599.6 47h3.1v3.1h-3.1zM600 85.5h3.1v3.1h-3.1zM612.8 89.8h3.1v3.1h-3.1zM578.9 100h3.1v3.1h-3.1zM587 85.1h3.1v3.1h-3.1zM610.5 62.8h3.1v3.1h-3.1zM510.8 27.9h3.1v3.1h-3.1z" fill="#0072B2"/>
<path d="M610.3 113.5h3.1v3.1h-3.1zM582.5 79.4h3.1v3.1h-3.1zM578.6 89.2h3.1v3.1h-3.1zM585.5 232.4h3.1v3.1h-3.1zM586.5 92.8h3.1v3.1h-3.1zM576.4 119.5h3.1v3.1h-3.1zM587 91.1h3.1v3.1h-3.1zM509 120.9h3.1v3.1h-3.1zM578.4 119.1h3.1v3.1h-3.1zM569 120.7h3.1v3.1h-3.1zM582.7 98.2h3.1v3.1h-3.1zM582.8 89.7h3.1v3.1h-3.1z" fill="#999999"/>
<path d="M508.8 60.3h3.1v3.1h-3.1zM578.9 151.6h3.1v3.1h-3.1zM508.8 102h3.1v3.1h-3.1zM582.7 112.8h3.1v3.1h-3.1zM588.8 107.2h3.1v3.1h-3.1zM508.6 82.7h3.1v3.1h-3.1zM578.9 96.3h3.1v3.1h-3.1zM612.4 114h3.1v3.1h-3.1zM612.8 133.3h3.1v3.1h-3.1zM510.8 32.9h3.1v3.1h-3.1zM578.9 48.4h3.1v3.1h-3.1zM610.4 70.1h3.1v3.1h-3.1zM582.7 77h3.1v3.1h-3.1z" fill="#E69F00"/>
<path d="M508.6 64.3h3.1v3.1h-3.1zM594.2 82.7h3.1v3.1h-3.1zM586.9 89.2h3.1v3.1h-3.1zM513.7 116.7h3.1v3.1h-3.1zM576.3 101.9h3.1v3.1h-3.1zM578.4 107.7h3.1v3.1h-3.1zM576 126.2h3.1v3.1h-3.1zM576.6 78.8h3.1v3.1h-3.1zM586.7 100.6h3.1v3.1h-3.1zM610.4 111.8h3.1v3.1h-3.1zM586.7 62.9h3.1v3.1h-3.1zM578.5 103.5h3.1v3.1h-3.1zM593.8 153.6h3.1v3.1h-3.1zM578.4 32.1h3.1v3.1h-3.1zM578.9 74.8h3.1v3.1h-3.1z" fill="#56B4E9"/>
<path d="M628.9 201.1h3.1v3.1h-3.1zM578.5 73.9h3.1v3.1h-3.1zM610 107.3h3.1v3.1h-3.1zM569 142.6h3.1v3.1h-3.1zM578.5 111.5h3.1v3.1h-3.1zM588.9 82.6h3.1v3.1h-3.1zM586.5 64.2h3.1v3.1h-3.1zM586.5 57.6h3.1v3.1h-3.1zM582.8 91.5h3.1v3.1h-3.1zM582.5 37.5h3.1v3.1h-3.1zM513.9 105h3.1v3.1h-3.1zM586.7 85.5h3.1v3.1h-3.1z" fill="#009E73"/>
<path d="M582.5 93.9h3.1v3.1h-3.1zM586.5 88.2h3.1v3.1h-3.1zM610.5 62.2h3.1v3.1h-3.1zM582.7 68.3h3.1v3.1h-3.1zM576.5 46.6h3.1v3.1h-3.1zM508.7 116.3h3.1v3.1h-3.1zM576.5 55h3.1v3.1h-3.1zM586.8 90.6h3.1v3.1h-3.1zM578.5 85h3.1v3.1h-3.1zM594.2 114.5h3.1v3.1h-3.1zM509 81.3h3.1v3.1h-3.1zM582.6 31h3.1v3.1h-3.1z" fill="#F0E442"/>
<path d="M576.6 91.2h3.1v3.1h-3.1zM582.5 106.8h3.1v3.1h-3.1zM586.7 110.4h3.1v3.1h-3.1zM600 90.3h3.1v3.1h-3.1zM576.3 123.5h3.1v3.1h-3.1zM610.2 67.5h3.1v3.1h-3.1zM586.7 90.3h3.1v3.1h-3.1zM599.8 59.3h3.1v3.1h-3.1zM582.7 115.9h3.1v3.1h-3.1zM582.5 34h3.1v3.1h-3.1zM576.3 77h3.1v3.1h-3.1zM578.6 39h3.1v3.1h-3.1zM582.9 63h3.1v3.1h-3.1z" fill="#0072B2"/>
<path d="M576.7 94.5h3.1v3.1h-3.1zM508.9 100.4h3.1v3.1h-3.1zM582.6 109.1h3.1v3.1h-3.1zM578.6 94.3h3.1v3.1h-3.1zM582.6 102.4h3.1v3.1h-3.1zM668.6 129.4h3.1v3.1h-3.1zM582.9 103.9h3.1v3.1h-3.1zM586.8 76.4h3.1v3.1h-3.1zM510.8 60.9h3.1v3.1h-3.1zM578.6 79.1h3.1v3.1h-3.1zM612.6 124h3.1v3.1h-3.1zM582.6 102h3.1v3.1h-3.1z" fill="#999999"/>
<path d="M582.5 113.3h3.1v3.1h-3.1zM582.6 62.2h3.1v3.1h-3.1zM583.1 168.6h3.1v3.1h-3.1zM610.5 105.8h3.1v3.1h-3.1zM610.2 46.4h3.1v3.1h-3.1zM576.3 92.5h3.1v3.1h-3.1zM587.2 192.6h3.1v3.1h-3.1zM508.4 202.4h3.1v3.1h-3.1zM568.7 83h3.1v3.1h-3.1zM569 131.9h3.1v3.1h-3.1zM612.9 87.3h3.1v3.1h-3.1z" fill="#E69F00"/>
<path d="M569 86.8h3.1v3.1h-3.1zM578.4 80.8h3.1v3.1h-3.1zM576.7 106.8h3.1v3.1h-3.1zM508.5 88.7h3.1v3.1h-3.1zM610 60.5h3.1v3.1h-3.1zM594 89.5h3.1v3.1h-3.1zM578.8 94.1h3.1v3.1h-3.1zM582.8 99.3h3.1v3.1h-3.1zM568.9 109.2h3.1v3.1h-3.1zM599.5 97.1h3.1v3.1h-3.1zM612.8 73.4h3.1v3.1h-3.1zM599.6 98.8h3.1v3.1h-3.1zM589 113.8h3.1v3.1h-3.1zM508.5 71h3.1v3.1h-3.1zM578.9 54.3h3.1v3.1h-3.1zM578.6 67h3.1v3.1h-3.1zM582.4 121.3h3.1v3.1h-3.1z" fill="#56B4E9"/>
<path d="M582.4 112.5h3.1v3.1h-3.1zM610 87.7h3.1v3.1h-3.1zM593.8 133.4h3.1v3.1h-3.1zM612.5 109.7h3.1v3.1h-3.1zM593.8 136.4h3.1v3.1h-3.1zM586.7 69.8h3.1v3.1h-3.1zM612.8 137.5h3.1v3.1h-3.1zM582.9 58.5h3.1v3.1h-3.1zM576.7 85.7h3.1v3.1h-3.1zM589.2 108.1h3.1v3.1h-3.1z" fill="#009E73"/>
<path d="M508.7 69.1h3.1v3.1h-3.1zM610 96.9h3.1v3.1h-3.1zM599.9 84.3h3.1v3.1h-3.1zM576.6 72.1h3.1v3.1h-3.1zM508.9 104.4h3.1v3.1h-3.1zM586.5 48h3.1v3.1h-3.1zM612.4 94.3h3.1v3.1h-3.1zM582.7 57.1h3.1v3.1h-3.1zM568.8 92.3h3.1v3.1h-3.1zM569.1 55.4h3.1v3.1h-3.1zM668.6 67.9h3.1v3.1h-3.1zM610.5 80.1h3.1v3.1h-3.1zM578.6 60.4h3.1v3.1h-3.1zM578.6 58.9h3.1v3.1h-3.1zM569 163.8h3.1v3.1h-3.1zM578.5 60.6h3.1v3.1h-3.1zM599.8 61.2h3.1v3.1h-3.1zM582.8 95.8h3.1v3.1h-3.1zM576.2 37.4h3.1v3.1h-3.1z" fill="#F0E442"/>
<path d="M508.8 65.7h3.1v3.1h-3.1zM582.6 33.2h3.1v3.1h-3.1zM587 68.3h3.1v3.1h-3.1zM576.6 99.8h3.1v3.1h-3.1zM582.7 62.4h3.1v3.1h-3.1zM576.5 67.4h3.1v3.1h-3.1zM578.9 107.8h3.1v3.1h-3.1zM582.5 119.5h3.1v3.1h-3.1z" fill="#0072B2"/>
<path d="M582.7 120.4h3.1v3.1h-3.1zM578.5 93.5h3.1v3.1h-3.1zM576.3 74.4h3.1v3.1h-3.1zM578.9 174.2h3.1v3.1h-3.1zM582.6 70.6h3.1v3.1h-3.1zM612.5 103.3h3.1v3.1h-3.1zM578.4 64.1h3.1v3.1h-3.1zM568.8 108h3.1v3.1h-3.1zM578.9 77.4h3.1v3.1h-3.1zM569.1 96.6h3.1v3.1h-3.1zM576.5 96.2h3.1v3.1h-3.1zM586.9 89h3.1v3.1h-3.1zM578.9 185.5h3.1v3.1h-3.1zM599.6 105.9h3.1v3.1h-3.1zM610.4 98.6h3.1v3.1h-3.1zM569.2 124.3h3.1v3.1h-3.1zM600 111.9h3.1v3.1h-3.1zM569.2 100.3h3.1v3.1h-3.1zM576 181.3h3.1v3.1h-3.1z" fill="#999999"/>
<path d="M508.7 123.6h3.1v3.1h-3.1zM599.8 73.5h3.1v3.1h-3.1zM509 96.3h3.1v3.1h-3.1zM586.6 89.6h3.1v3.1h-3.1zM612.6 84.1h3.1v3.1h-3.1zM576.7 78.7h3.1v3.1h-3.1zM612.8 182.8h3.1v3.1h-3.1zM610.1 84.5h3.1v3.1h-3.1zM576.2 62.7h3.1v3.1h-3.1zM586.9 95.8h3.1v3.1h-3.1z" fill="#E69F00"/>
<path d="M612.9 117.2h3.1v3.1h-3.1zM508.7 79.3h3.1v3.1h-3.1zM612.8 126.2h3.1v3.1h-3.1zM589 86h3.1v3.1h-3.1zM585.9 136.1h3.1v3.1h-3.1zM594.2 94.4h3.1v3.1h-3.1zM668.6 107.2h3.1v3.1h-3.1zM578.5 88.7h3.1v3.1h-3.1zM612.7 102h3.1v3.1h-3.1zM508.9 85.3h3.1v3.1h-3.1zM569.2 76.1h3.1v3.1h-3.1zM578.5 46.8h3.1v3.1h-3.1zM578.8 83.1h3.1v3.1h-3.1zM578.5 85.5h3.1v3.1h-3.1z" fill="#56B4E9"/>
<path d="M576.5 89.2h3.1v3.1h-3.1zM668.6 91.8h3.1v3.1h-3.1zM578.9 38.7h3.1v3.1h-3.1zM578.4 68.1h3.1v3.1h-3.1zM578.7 86.9h3.1v3.1h-3.1zM610.3 93.9h3.1v3.1h-3.1zM610.5 153.9h3.1v3.1h-3.1zM582.6 60.9h3.1v3.1h-3.1zM508.7 68.9h3.1v3.1h-3.1zM508.9 62.3h3.1v3.1h-3.1zM587.9 132.8h3.1v3.1h-3.1zM578.9 142.6h3.1v3.1h-3.1zM668.6 60.7h3.1v3.1h-3.1zM578.4 79.9h3.1v3.1h-3.1z" fill="#009E73"/>
<path d="M568.8 90.7h3.1v3.1h-3.1zM582.7 86.2h3.1v3.1h-3.1zM578.7 62.3h3.1v3.1h-3.1zM578.9 117.8h3.1v3.1h-3.1zM569 90.8h3.1v3.1h-3.1zM508.6 63.5h3.1v3.1h-3.1zM578.6 57.9h3.1v3.1h-3.1zM582.7 66.8h3.1v3.1h-3.1zM513.8 72.2h3.1v3.1h-3.1zM509 68.9h3.1v3.1h-3.1z" fill="#F0E442"/>
<path d="M508.6 59.8h3.1v3.1h-3.1zM582.8 113.3h3.1v3.1h-3.1zM610.1 110.5h3.1v3.1h-3.1zM612.6 51.4h3.1v3.1h-3.1zM509 82.8h3.1v3.1h-3.1zM509 60.4h3.1v3.1h-3.1zM578.4 61.4h3.1v3.1h-3.1zM582.5 100.1h3.1v3.1h-3.1zM582.9 84.8h3.1v3.1h-3.1zM586.7 47.8h3.1v3.1h-3.1z" fill="#0072B2"/>
<path d="M582.8 115h3.1v3.1h-3.1zM578.6 121.3h3.1v3.1h-3.1zM584.5 160.1h3.1v3.1h-3.1zM578.5 88.1h3.1v3.1h-3.1zM576.6 108.3h3.1v3.1h-3.1zM586.6 96.3h3.1v3.1h-3.1zM612.8 147.4h3.1v3.1h-3.1zM582.7 64.8h3.1v3.1h-3.1zM585.4 149.4h3.1v3.1h-3.1zM593.8 150.2h3.1v3.1h-3.1zM582.6 67.9h3.1v3.1h-3.1z" fill="#999999"/>
<path d="M578.9 124.5h3.1v3.1h-3.1zM582.7 87.6h3.1v3.1h-3.1zM610 91.5h3.1v3.1h-3.1zM612.8 109.1h3.1v3.1h-3.1zM514.2 110.8h3.1v3.1h-3.1zM668.6 139.9h3.1v3.1h-3.1zM508.7 93.4h3.1v3.1h-3.1zM582.5 60.5h3.1v3.1h-3.1zM568.7 85.7h3.1v3.1h-3.1zM668.6 100.5h3.1v3.1h-3.1zM612.6 63h3.1v3.1h-3.1zM583.1 151.6h3.1v3.1h-3.1zM509 110.8h3.1v3.1h-3.1zM582.8 52.5h3.1v3.1h-3.1zM576.6 73.1h3.1v3.1h-3.1zM576.5 102.5h3.1v3.1h-3.1zM578.5 62.2h3.1v3.1h-3.1zM593.8 171.4h3.1v3.1h-3.1zM582.5 73.3h3.1v3.1h-3.1zM612.8 143.8h3.1v3.1h-3.1zM581.7 170h3.1v3.1h-3.1zM582.9 124.7h3.1v3.1h-3.1z" fill="#E69F00"/>
<path d="M599.8 116.4h3.1v3.1h-3.1zM509.1 47.2h3.1v3.1h-3.1zM599.6 116h3.1v3.1h-3.1zM578.7 72.6h3.1v3.1h-3.1zM612.5 101.5h3.1v3.1h-3.1zM582.8 73.8h3.1v3.1h-3.1zM586.8 87.4h3.1v3.1h-3.1z" fill="#56B4E9"/>
<path d="M568.8 114h3.1v3.1h-3.1zM582.8 79.9h3.1v3.1h-3.1zM578.9 85.8h3.1v3.1h-3.1zM599.5 70.2h3.1v3.1h-3.1zM587 67h3.1v3.1h-3.1zM582.5 105h3.1v3.1h-3.1zM593.8 139.9h3.1v3.1h-3.1zM582.4 100.5h3.1v3.1h-3.1zM576.5 62.6h3.1v3.1h-3.1zM582.4 106.4h3.1v3.1h-3.1z" fill="#009E73"/>
<path d="M578.7 79.3h3.1v3.1h-3.1zM569.1 51.8h3.1v3.1h-3.1zM612.5 69.8h3.1v3.1h-3.1zM582.5 91.3h3.1v3.1h-3.1zM610.3 104.4h3.1v3.1h-3.1zM582.4 93.1h3.1v3.1h-3.1zM582.6 92.3h3.1v3.1h-3.1zM578.9 99.4h3.1v3.1h-3.1zM582.7 116.4h3.1v3.1h-3.1zM509.1 37.1h3.1v3.1h-3.1zM578.8 48.4h3.1v3.1h-3.1zM589.1 125.4h3.1v3.1h-3.1zM610.5 83.4h3.1v3.1h-3.1zM578.6 80.5h3.1v3.1h-3.1zM569.2 88.5h3.1v3.1h-3.1zM668.6 118.5h3.1v3.1h-3.1zM578.9 53.5h3.1v3.1h-3.1zM576.3 61h3.1v3.1h-3.1z" fill="#F0E442"/>
<path d="M582.5 85.5h3.1v3.1h-3.1zM576.6 77.3h3.1v3.1h-3.1zM576.4 79.3h3.1v3.1h-3.1zM610.3 96.9h3.1v3.1h-3.1zM508.9 78.4h3.1v3.1h-3.1zM586.7 109.2h3.1v3.1h-3.1zM568.9 75.8h3.1v3.1h-3.1zM578.9 36.3h3.1v3.1h-3.1zM576.7 64.5h3.1v3.1h-3.1z" fill="#0072B2"/>
<path d="M578.8 73.3h3.1v3.1h-3.1zM582.4 122.7h3.1v3.1h-3.1zM582.5 114.6h3.1v3.1h-3.1zM582.8 87.9h3.1v3.1h-3.1zM508.4 139.9h3.1v3.1h-3.1zM578.5 80.3h3.1v3.1h-3.1zM586.5 83.6h3.1v3.1h-3.1zM578.5 124h3.1v3.1h-3.1zM585.4 178.5h3.1v3.1h-3.1z" fill="#999999"/>
<path d="M610.3 121.2h3.1v3.1h-3.1zM585.4 200.2h3.1v3.1h-3.1zM612.7 106.8h3.1v3.1h-3.1zM586.8 123.4h3.1v3.1h-3.1zM582.9 98.6h3.1v3.1h-3.1zM568.8 85.1h3.1v3.1h-3.1zM508.9 107h3.1v3.1h-3.1zM600 129h3.1v3.1h-3.1zM612.8 89.9h3.1v3.1h-3.1zM514 98.6h3.1v3.1h-3.1zM508.4 166.1h3.1v3.1h-3.1zM578.5 123.9h3.1v3.1h-3.1zM610.3 70.5h3.1v3.1h-3.1zM586.8 103.9h3.1v3.1h-3.1zM578.4 117.9h3.1v3.1h-3.1zM569 92.7h3.1v3.1h-3.1zM582.4 57h3.1v3.1h-3.1zM514 101h3.1v3.1h-3.1z" fill="#E69F00"/>
<path d="M582.6 91.1h3.1v3.1h-3.1zM508.4 150.8h3.1v3.1h-3.1zM585.4 191.2h3.1v3.1h-3.1zM610 124.6h3.1v3.1h-3.1zM599.7 67.5h3.1v3.1h-3.1zM576.3 103.1h3.1v3.1h-3.1zM578.6 71h3.1v3.1h-3.1zM569 62.2h3.1v3.1h-3.1z" fill="#56B4E9"/>
<path d="M569.2 88.4h3.1v3.1h-3.1zM586.9 57.8h3.1v3.1h-3.1zM582.7 82.6h3.1v3.1h-3.1zM578.9 54.2h3.1v3.1h-3.1zM582.7 61.2h3.1v3.1h-3.1zM508.7 84.1h3.1v3.1h-3.1zM568.8 81.8h3.1v3.1h-3.1zM576.2 61h3.1v3.1h-3.1zM578.5 61.6h3.1v3.1h-3.1zM508.6 71.5h3.1v3.1h-3.1z" fill="#009E73"/>
<path d="M513.9 43.8h3.1v3.1h-3.1zM578.7 20.8h3.1v3.1h-3.1zM578.7 119.9h3.1v3.1h-3.1zM610 77.4h3.1v3.1h-3.1zM578.4 99.7h3.1v3.1h-3.1zM610.3 62.7h3.1v3.1h-3.1zM588.8 82.1h3.1v3.1h-3.1zM578.9 44.1h3.1v3.1h-3.1zM587 115.9h3.1v3.1h-3.1zM578.5 86.7h3.1v3.1h-3.1zM610.5 110.3h3.1v3.1h-3.1zM599.9 87.7h3.1v3.1h-3.1zM508.9 107.9h3.1v3.1h-3.1zM612.7 72.1h3.1v3.1h-3.1zM588.9 89.8h3.1v3.1h-3.1zM628.9 140.4h3.1v3.1h-3.1zM578.5 63.9h3.1v3.1h-3.1z" fill="#F0E442"/>
<path d="M610.5 75.7h3.1v3.1h-3.1zM582.8 72.3h3.1v3.1h-3.1zM586.9 58.2h3.1v3.1h-3.1zM582.7 88.4h3.1v3.1h-3.1zM576.4 77.5h3.1v3.1h-3.1zM578.4 107.9h3.1v3.1h-3.1zM578.4 94.9h3.1v3.1h-3.1zM599.9 70.4h3.1v3.1h-3.1zM578.8 53.2h3.1v3.1h-3.1zM569.2 55h3.1v3.1h-3.1zM578.4 57.8h3.1v3.1h-3.1zM668.6 75.2h3.1v3.1h-3.1zM610.5 68.7h3.1v3.1h-3.1zM576.5 52.2h3.1v3.1h-3.1z" fill="#0072B2"/>
<path d="M569 126.2h3.1v3.1h-3.1zM576.2 98.2h3.1v3.1h-3.1zM576.3 90.9h3.1v3.1h-3.1zM587 108.2h3.1v3.1h-3.1zM581.7 189.8h3.1v3.1h-3.1zM612.9 83.6h3.1v3.1h-3.1zM586.8 111.4h3.1v3.1h-3.1zM508.8 104.1h3.1v3.1h-3.1zM582.7 107h3.1v3.1h-3.1zM668.6 173.1h3.1v3.1h-3.1z" fill="#999999"/>
<path d="M569 135.3h3.1v3.1h-3.1zM582.7 103.5h3.1v3.1h-3.1zM593.8 175.1h3.1v3.1h-3.1zM589 98.4h3.1v3.1h-3.1zM568.8 96.4h3.1v3.1h-3.1zM576.2 97.5h3.1v3.1h-3.1zM668.6 169.1h3.1v3.1h-3.1zM569.1 125.2h3.1v3.1h-3.1zM578.4 79.7h3.1v3.1h-3.1zM589.2 86.6h3.1v3.1h-3.1zM576.3 114.3h3.1v3.1h-3.1zM600 81.6h3.1v3.1h-3.1zM610.2 60.6h3.1v3.1h-3.1zM578.9 166.4h3.1v3.1h-3.1zM599.5 88.2h3.1v3.1h-3.1zM576.3 86.5h3.1v3.1h-3.1zM585.4 169.2h3.1v3.1h-3.1zM582.8 37.4h3.1v3.1h-3.1zM582.6 43.6h3.1v3.1h-3.1z" fill="#E69F00"/>
<path d="M610.3 121.8h3.1v3.1h-3.1zM612.8 98.5h3.1v3.1h-3.1zM578.7 37.5h3.1v3.1h-3.1zM586.5 91.5h3.1v3.1h-3.1zM610.3 76.3h3.1v3.1h-3.1zM584.5 162.9h3.1v3.1h-3.1zM581.7 158.8h3.1v3.1h-3.1zM586.7 64.9h3.1v3.1h-3.1zM612.8 179.9h3.1v3.1h-3.1zM612.8 129h3.1v3.1h-3.1zM578.6 84.7h3.1v3.1h-3.1zM578.5 71h3.1v3.1h-3.1zM600 46.1h3.1v3.1h-3.1zM612.7 85.2h3.1v3.1h-3.1zM508.4 170.4h3.1v3.1h-3.1zM582.7 79.8h3.1v3.1h-3.1z" fill="#56B4E9"/>
<path d="M600 65.4h3.1v3.1h-3.1zM514.5 52.8h3.1v3.1h-3.1zM582.9 60.7h3.1v3.1h-3.1zM576.4 51.6h3.1v3.1h-3.1zM508.7 91h3.1v3.1h-3.1zM578.8 79.3h3.1v3.1h-3.1zM587 115.2h3.1v3.1h-3.1zM508.9 66.6h3.1v3.1h-3.1zM599.7 105.6h3.1v3.1h-3.1z" fill="#009E73"/>
<path d="M599.6 67.1h3.1v3.1h-3.1zM576.3 71.2h3.1v3.1h-3.1zM582.6 93.3h3.1v3.1h-3.1zM514.5 63h3.1v3.1h-3.1zM582.8 95.6h3.1v3.1h-3.1zM508.6 82.3h3.1v3.1h-3.1zM582.7 88.9h3.1v3.1h-3.1zM576.5 50.5h3.1v3.1h-3.1zM576.2 88.1h3.1v3.1h-3.1zM578.4 29.9h3.1v3.1h-3.1zM582.9 75.8h3.1v3.1h-3.1z" fill="#F0E442"/>
<path d="M568.9 95.7h3.1v3.1h-3.1zM612.4 66.9h3.1v3.1h-3.1zM582.8 77.7h3.1v3.1h-3.1zM568.7 52.2h3.1v3.1h-3.1zM578.9 66.9h3.1v3.1h-3.1zM599.7 80.7h3.1v3.1h-3.1zM576.4 93.5h3.1v3.1h-3.1zM578.7 48h3.1v3.1h-3.1zM612.7 63h3.1v3.1h-3.1zM586.7 96.5h3.1v3.1h-3.1zM582.8 80.9h3.1v3.1h-3.1z" fill="#0072B2"/>
</g>
<rect x="517.4" y="160.3" width="46.5" height="85.3" fill="#fff" stroke="#111" stroke-width="1"/>
<text transform="translate(520.1 170.8) scale(1.04 1)" class="lt">Month:</text>
<rect x="524.2" y="175.9" width="9.6" height="10.4" fill="#999999" fill-opacity="0.12"/>
<line x1="524.3" x2="533.7" y1="181.1" y2="181.1" stroke="#999999" stroke-width="2.9"/>
<text transform="translate(537.8 183.9) scale(0.985 1)" class="ll">Apr</text>
<rect x="524.2" y="187.1" width="9.6" height="10.4" fill="#E69F00" fill-opacity="0.12"/>
<line x1="524.3" x2="533.7" y1="192.3" y2="192.3" stroke="#E69F00" stroke-width="2.9"/>
<text transform="translate(537.8 195.1) scale(0.985 1)" class="ll">May</text>
<rect x="524.2" y="198.3" width="9.6" height="10.4" fill="#56B4E9" fill-opacity="0.12"/>
<line x1="524.3" x2="533.7" y1="203.5" y2="203.5" stroke="#56B4E9" stroke-width="2.9"/>
<text transform="translate(537.8 206.3) scale(0.985 1)" class="ll">Jun</text>
<rect x="524.2" y="209.6" width="9.6" height="10.4" fill="#009E73" fill-opacity="0.12"/>
<line x1="524.3" x2="533.7" y1="214.8" y2="214.8" stroke="#009E73" stroke-width="2.9"/>
<text transform="translate(537.8 217.6) scale(0.985 1)" class="ll">Jul</text>
<rect x="524.2" y="220.8" width="9.6" height="10.4" fill="#F0E442" fill-opacity="0.12"/>
<line x1="524.3" x2="533.7" y1="226" y2="226" stroke="#F0E442" stroke-width="2.9"/>
<text transform="translate(537.8 228.8) scale(0.985 1)" class="ll">Aug</text>
<rect x="524.2" y="232" width="9.6" height="10.4" fill="#0072B2" fill-opacity="0.12"/>
<line x1="524.3" x2="533.7" y1="237.2" y2="237.2" stroke="#0072B2" stroke-width="2.9"/>
<text transform="translate(537.8 240) scale(0.985 1)" class="ll">Sep</text>
<rect x="42.35" y="1.2" width="184.1" height="251.2" fill="none" stroke="#000" stroke-width="1.4"/>
<line x1="36.6" x2="42.4" y1="25.4" y2="25.4" class="tk"/>
<text transform="translate(34.8 28.9) scale(0.965 1)" class="tl" text-anchor="end">2.8</text>
<line x1="36.6" x2="42.4" y1="52.4" y2="52.4" class="tk"/>
<text transform="translate(34.8 55.9) scale(0.965 1)" class="tl" text-anchor="end">2.4</text>
<line x1="36.6" x2="42.4" y1="79.4" y2="79.4" class="tk"/>
<text transform="translate(34.8 82.9) scale(0.965 1)" class="tl" text-anchor="end">2.0</text>
<line x1="36.6" x2="42.4" y1="106.5" y2="106.5" class="tk"/>
<text transform="translate(34.8 110) scale(0.965 1)" class="tl" text-anchor="end">1.6</text>
<line x1="36.6" x2="42.4" y1="133.5" y2="133.5" class="tk"/>
<text transform="translate(34.8 137) scale(0.965 1)" class="tl" text-anchor="end">1.2</text>
<line x1="36.6" x2="42.4" y1="160.5" y2="160.5" class="tk"/>
<text transform="translate(34.8 164) scale(0.965 1)" class="tl" text-anchor="end">0.8</text>
<line x1="36.6" x2="42.4" y1="187.5" y2="187.5" class="tk"/>
<text transform="translate(34.8 191) scale(0.965 1)" class="tl" text-anchor="end">0.4</text>
<line x1="36.6" x2="42.4" y1="214.5" y2="214.5" class="tk"/>
<text transform="translate(34.8 218) scale(0.965 1)" class="tl" text-anchor="end">0.0</text>
<line x1="36.6" x2="42.4" y1="241.6" y2="241.6" class="tk"/>
<text transform="translate(34.8 245.1) scale(0.965 1)" class="tl" text-anchor="end">-0.4</text>
<rect x="271.0" y="1.2" width="184" height="251.2" fill="none" stroke="#000" stroke-width="1.4"/>
<line x1="265.2" x2="271" y1="25.4" y2="25.4" class="tk"/>
<text transform="translate(263.4 28.9) scale(0.965 1)" class="tl" text-anchor="end">2.8</text>
<line x1="265.2" x2="271" y1="52.4" y2="52.4" class="tk"/>
<text transform="translate(263.4 55.9) scale(0.965 1)" class="tl" text-anchor="end">2.4</text>
<line x1="265.2" x2="271" y1="79.4" y2="79.4" class="tk"/>
<text transform="translate(263.4 82.9) scale(0.965 1)" class="tl" text-anchor="end">2.0</text>
<line x1="265.2" x2="271" y1="106.5" y2="106.5" class="tk"/>
<text transform="translate(263.4 110) scale(0.965 1)" class="tl" text-anchor="end">1.6</text>
<line x1="265.2" x2="271" y1="133.5" y2="133.5" class="tk"/>
<text transform="translate(263.4 137) scale(0.965 1)" class="tl" text-anchor="end">1.2</text>
<line x1="265.2" x2="271" y1="160.5" y2="160.5" class="tk"/>
<text transform="translate(263.4 164) scale(0.965 1)" class="tl" text-anchor="end">0.8</text>
<line x1="265.2" x2="271" y1="187.5" y2="187.5" class="tk"/>
<text transform="translate(263.4 191) scale(0.965 1)" class="tl" text-anchor="end">0.4</text>
<line x1="265.2" x2="271" y1="214.5" y2="214.5" class="tk"/>
<text transform="translate(263.4 218) scale(0.965 1)" class="tl" text-anchor="end">0.0</text>
<line x1="265.2" x2="271" y1="241.6" y2="241.6" class="tk"/>
<text transform="translate(263.4 245.1) scale(0.965 1)" class="tl" text-anchor="end">-0.4</text>
<rect x="499.7" y="1.2" width="183.8" height="251.2" fill="none" stroke="#000" stroke-width="1.4"/>
<line x1="493.9" x2="499.7" y1="25.4" y2="25.4" class="tk"/>
<text transform="translate(492.1 28.9) scale(0.965 1)" class="tl" text-anchor="end">2.8</text>
<line x1="493.9" x2="499.7" y1="52.4" y2="52.4" class="tk"/>
<text transform="translate(492.1 55.9) scale(0.965 1)" class="tl" text-anchor="end">2.4</text>
<line x1="493.9" x2="499.7" y1="79.4" y2="79.4" class="tk"/>
<text transform="translate(492.1 82.9) scale(0.965 1)" class="tl" text-anchor="end">2.0</text>
<line x1="493.9" x2="499.7" y1="106.5" y2="106.5" class="tk"/>
<text transform="translate(492.1 110) scale(0.965 1)" class="tl" text-anchor="end">1.6</text>
<line x1="493.9" x2="499.7" y1="133.5" y2="133.5" class="tk"/>
<text transform="translate(492.1 137) scale(0.965 1)" class="tl" text-anchor="end">1.2</text>
<line x1="493.9" x2="499.7" y1="160.5" y2="160.5" class="tk"/>
<text transform="translate(492.1 164) scale(0.965 1)" class="tl" text-anchor="end">0.8</text>
<line x1="493.9" x2="499.7" y1="187.5" y2="187.5" class="tk"/>
<text transform="translate(492.1 191) scale(0.965 1)" class="tl" text-anchor="end">0.4</text>
<line x1="493.9" x2="499.7" y1="214.5" y2="214.5" class="tk"/>
<text transform="translate(492.1 218) scale(0.965 1)" class="tl" text-anchor="end">0.0</text>
<line x1="493.9" x2="499.7" y1="241.6" y2="241.6" class="tk"/>
<text transform="translate(492.1 245.1) scale(0.965 1)" class="tl" text-anchor="end">-0.4</text>
<line x1="59.8" x2="59.8" y1="252.3" y2="258.1" class="tk"/>
<text transform="translate(59.8 267.1) scale(0.965 1)" class="tl" text-anchor="middle">-0.5</text>
<line x1="84.6" x2="84.6" y1="252.3" y2="258.1" class="tk"/>
<text transform="translate(84.6 267.1) scale(0.965 1)" class="tl" text-anchor="middle">0.0</text>
<line x1="109.4" x2="109.4" y1="252.3" y2="258.1" class="tk"/>
<text transform="translate(109.4 267.1) scale(0.965 1)" class="tl" text-anchor="middle">0.5</text>
<line x1="134.2" x2="134.2" y1="252.3" y2="258.1" class="tk"/>
<text transform="translate(134.2 267.1) scale(0.965 1)" class="tl" text-anchor="middle">1.0</text>
<line x1="159" x2="159" y1="252.3" y2="258.1" class="tk"/>
<text transform="translate(159 267.1) scale(0.965 1)" class="tl" text-anchor="middle">1.5</text>
<line x1="183.8" x2="183.8" y1="252.3" y2="258.1" class="tk"/>
<text transform="translate(183.8 267.1) scale(0.965 1)" class="tl" text-anchor="middle">2.0</text>
<line x1="208.6" x2="208.6" y1="252.3" y2="258.1" class="tk"/>
<text transform="translate(208.6 267.1) scale(0.965 1)" class="tl" text-anchor="middle">2.5</text>
<line x1="278.8" x2="278.8" y1="252.3" y2="258.1" class="tk"/>
<text transform="translate(278.8 267.1) scale(0.965 1)" class="tl" text-anchor="middle">-3</text>
<line x1="306.9" x2="306.9" y1="252.3" y2="258.1" class="tk"/>
<text transform="translate(306.9 267.1) scale(0.965 1)" class="tl" text-anchor="middle">-2</text>
<line x1="335" x2="335" y1="252.3" y2="258.1" class="tk"/>
<text transform="translate(335 267.1) scale(0.965 1)" class="tl" text-anchor="middle">-1</text>
<line x1="363.1" x2="363.1" y1="252.3" y2="258.1" class="tk"/>
<text transform="translate(363.1 267.1) scale(0.965 1)" class="tl" text-anchor="middle">0</text>
<line x1="391.2" x2="391.2" y1="252.3" y2="258.1" class="tk"/>
<text transform="translate(391.2 267.1) scale(0.965 1)" class="tl" text-anchor="middle">1</text>
<line x1="419.3" x2="419.3" y1="252.3" y2="258.1" class="tk"/>
<text transform="translate(419.3 267.1) scale(0.965 1)" class="tl" text-anchor="middle">2</text>
<line x1="447.4" x2="447.4" y1="252.3" y2="258.1" class="tk"/>
<text transform="translate(447.4 267.1) scale(0.965 1)" class="tl" text-anchor="middle">3</text>
<line x1="504.2" x2="504.2" y1="252.3" y2="258.1" class="tk"/>
<text transform="translate(504.2 267.1) scale(0.965 1)" class="tl" text-anchor="middle">150</text>
<line x1="532.8" x2="532.8" y1="252.3" y2="258.1" class="tk"/>
<text transform="translate(532.8 267.1) scale(0.965 1)" class="tl" text-anchor="middle">250</text>
<line x1="561.5" x2="561.5" y1="252.3" y2="258.1" class="tk"/>
<text transform="translate(561.5 267.1) scale(0.965 1)" class="tl" text-anchor="middle">350</text>
<line x1="590.1" x2="590.1" y1="252.3" y2="258.1" class="tk"/>
<text transform="translate(590.1 267.1) scale(0.965 1)" class="tl" text-anchor="middle">450</text>
<line x1="618.7" x2="618.7" y1="252.3" y2="258.1" class="tk"/>
<text transform="translate(618.7 267.1) scale(0.965 1)" class="tl" text-anchor="middle">550</text>
<line x1="647.4" x2="647.4" y1="252.3" y2="258.1" class="tk"/>
<text transform="translate(647.4 267.1) scale(0.965 1)" class="tl" text-anchor="middle">650</text>
<line x1="676" x2="676" y1="252.3" y2="258.1" class="tk"/>
<text transform="translate(676 267.1) scale(0.965 1)" class="tl" text-anchor="middle">750</text>
<text transform="translate(134.7 279) scale(1.048 1)" class="at" text-anchor="middle">Log<tspan class="sb" dy="2.5">10</tspan><tspan dy="-2.5">(Fishpond area) [ha]</tspan></text>
<text transform="translate(363 279) scale(1.08 1)" class="at" text-anchor="middle">Log<tspan class="sb" dy="2.5">10</tspan><tspan dy="-2.5">(DIN:TP) [molar]</tspan></text>
<text transform="translate(591.6 279) scale(0.982 1)" class="at" text-anchor="middle">Altitude [m a.s.l.]</text>
<text transform="translate(11.3 126.9) rotate(-90)" class="at" text-anchor="middle">Chlorophyll-a [µg.L<tspan class="sb" dy="-3.6">-1</tspan><tspan dy="3.6">]</tspan></text>
<text x="48.2" y="17.7" class="pl">A)</text>
<text x="276.0" y="17.7" class="pl">B)</text>
<text x="503.4" y="17.7" class="pl">C)</text>
</svg></body></html>
